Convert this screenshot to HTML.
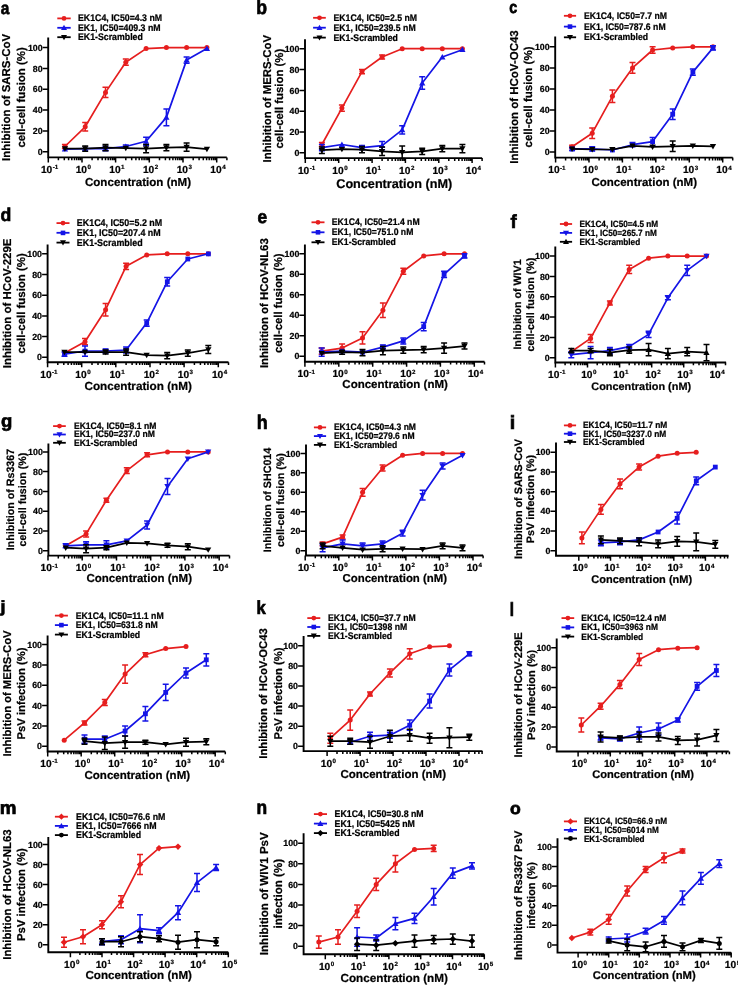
<!DOCTYPE html>
<html><head><meta charset="utf-8"><style>
html,body{margin:0;padding:0;background:#fff;width:738px;height:987px;overflow:hidden}
svg{display:block;text-rendering:geometricPrecision;filter:blur(0.35px)}
text{font-family:"Liberation Sans", sans-serif;font-weight:bold;fill:#000;stroke:#000;stroke-width:0.22px}
.lab{stroke-width:0.7px}
</style></head><body>
<svg width="738" height="987" viewBox="0 0 738 987">
<rect width="738" height="987" fill="#fff"/>
<text class="lab" transform="translate(0.85,13.52) scale(0.868,1)" font-size="17.70">a</text>
<path d="M48.2,37.4V157.4H226.8" fill="none" stroke="#000" stroke-width="1.9"/>
<text x="42.6" y="154.8" font-size="8.8" text-anchor="end">0</text>
<text x="42.6" y="134.0" font-size="8.8" text-anchor="end">20</text>
<text x="42.6" y="113.2" font-size="8.8" text-anchor="end">40</text>
<text x="42.6" y="92.4" font-size="8.8" text-anchor="end">60</text>
<text x="42.6" y="71.5" font-size="8.8" text-anchor="end">80</text>
<text x="42.6" y="50.7" font-size="8.8" text-anchor="end">100</text>
<path d="M42.7,151.8H48.2M42.7,130.9H48.2M42.7,110.1H48.2M42.7,89.3H48.2M42.7,68.4H48.2M42.7,47.6H48.2M48.3,157.4V162.4M58.4,157.4V160.2M64.3,157.4V160.2M68.6,157.4V160.2M71.8,157.4V160.2M74.5,157.4V160.2M76.7,157.4V160.2M78.7,157.4V160.2M80.4,157.4V160.2M82.0,157.4V162.4M92.1,157.4V160.2M98.0,157.4V160.2M102.2,157.4V160.2M105.5,157.4V160.2M108.2,157.4V160.2M110.4,157.4V160.2M112.4,157.4V160.2M114.1,157.4V160.2M115.6,157.4V162.4M125.8,157.4V160.2M131.7,157.4V160.2M135.9,157.4V160.2M139.2,157.4V160.2M141.9,157.4V160.2M144.1,157.4V160.2M146.1,157.4V160.2M147.8,157.4V160.2M149.3,157.4V162.4M159.5,157.4V160.2M165.4,157.4V160.2M169.6,157.4V160.2M172.9,157.4V160.2M175.6,157.4V160.2M177.8,157.4V160.2M179.8,157.4V160.2M181.5,157.4V160.2M183.0,157.4V162.4M193.2,157.4V160.2M199.1,157.4V160.2M203.3,157.4V160.2M206.6,157.4V160.2M209.2,157.4V160.2M211.5,157.4V160.2M213.5,157.4V160.2M215.2,157.4V160.2M216.7,157.4V162.4M226.9,157.4V160.2" fill="none" stroke="#000" stroke-width="1.5"/>
<text x="49.6" y="172.9" font-size="10.2" text-anchor="middle">10<tspan font-size="6.2" dy="-3.6" dx="0.5">-1</tspan></text>
<text x="83.3" y="172.9" font-size="10.2" text-anchor="middle">10<tspan font-size="6.2" dy="-3.6" dx="0.5">0</tspan></text>
<text x="116.9" y="172.9" font-size="10.2" text-anchor="middle">10<tspan font-size="6.2" dy="-3.6" dx="0.5">1</tspan></text>
<text x="150.6" y="172.9" font-size="10.2" text-anchor="middle">10<tspan font-size="6.2" dy="-3.6" dx="0.5">2</tspan></text>
<text x="184.3" y="172.9" font-size="10.2" text-anchor="middle">10<tspan font-size="6.2" dy="-3.6" dx="0.5">3</tspan></text>
<text x="218.0" y="172.9" font-size="10.2" text-anchor="middle">10<tspan font-size="6.2" dy="-3.6" dx="0.5">4</tspan></text>
<text x="138.0" y="185.9" font-size="11.59" text-anchor="middle">Concentration (nM)</text>
<text transform="translate(10.4,97.4) rotate(-90)" x="0" y="0" font-size="11.45" text-anchor="middle">Inhibition of SARS-CoV</text>
<text transform="translate(24.7,97.4) rotate(-90)" x="0" y="0" font-size="11.45" text-anchor="middle">cell-cell fusion (%)</text>
<path d="M57.3,18.4H70.7" stroke="#e61e1e" stroke-width="1.8"/>
<circle cx="64.0" cy="18.4" r="2.4" fill="#e61e1e"/>
<text transform="translate(78.0,21.40) scale(1,1.1)" font-size="8.78">EK1C4, IC50=4.3 nM</text>
<path d="M57.3,27.8H70.7" stroke="#1414e6" stroke-width="1.8"/>
<polygon points="64.0,24.8 67.0,30.0 61.0,30.0" fill="#1414e6"/>
<text transform="translate(78.0,30.80) scale(1,1.1)" font-size="8.78">EK1, IC50=409.3 nM</text>
<path d="M57.3,37.2H70.7" stroke="#000000" stroke-width="1.8"/>
<polygon points="64.0,40.2 67.0,35.0 61.0,35.0" fill="#000000"/>
<text transform="translate(78.0,40.20) scale(1,1.1)" font-size="8.78">EK1-Scrambled</text>
<polyline points="64.9,146.5 85.2,126.8 105.5,92.4 125.8,62.2 146.1,48.6 166.4,47.6 186.6,47.6 206.9,47.6" fill="none" stroke="#e61e1e" stroke-width="1.7" stroke-linejoin="round"/>
<path d="M64.9,144.5V148.6M61.9,144.5H67.9M61.9,148.6H67.9M85.2,122.6V130.9M82.2,122.6H88.2M82.2,130.9H88.2M105.5,87.2V97.6M102.5,87.2H108.5M102.5,97.6H108.5M125.8,59.1V65.3M122.8,59.1H128.8M122.8,65.3H128.8" fill="none" stroke="#e61e1e" stroke-width="1.5"/>
<circle cx="64.9" cy="146.5" r="2.5" fill="#e61e1e"/>
<circle cx="85.2" cy="126.8" r="2.5" fill="#e61e1e"/>
<circle cx="105.5" cy="92.4" r="2.5" fill="#e61e1e"/>
<circle cx="125.8" cy="62.2" r="2.5" fill="#e61e1e"/>
<circle cx="146.1" cy="48.6" r="2.5" fill="#e61e1e"/>
<circle cx="166.4" cy="47.6" r="2.5" fill="#e61e1e"/>
<circle cx="186.6" cy="47.6" r="2.5" fill="#e61e1e"/>
<circle cx="206.9" cy="47.6" r="2.5" fill="#e61e1e"/>
<polyline points="64.9,149.1 85.2,148.6 105.5,148.6 125.8,146.5 146.1,141.3 166.4,117.4 186.6,60.1 206.9,48.6" fill="none" stroke="#1414e6" stroke-width="1.7" stroke-linejoin="round"/>
<path d="M105.5,146.5V150.7M102.5,146.5H108.5M102.5,150.7H108.5M125.8,145.0V148.1M122.8,145.0H128.8M122.8,148.1H128.8M146.1,137.2V145.5M143.1,137.2H149.1M143.1,145.5H149.1M166.4,109.0V125.7M163.4,109.0H169.4M163.4,125.7H169.4M186.6,57.0V63.2M183.6,57.0H189.6M183.6,63.2H189.6" fill="none" stroke="#1414e6" stroke-width="1.5"/>
<polygon points="64.9,146.0 68.1,151.5 61.8,151.5" fill="#1414e6"/>
<polygon points="85.2,145.5 88.3,151.0 82.1,151.0" fill="#1414e6"/>
<polygon points="105.5,145.5 108.6,151.0 102.4,151.0" fill="#1414e6"/>
<polygon points="125.8,143.4 128.9,148.9 122.7,148.9" fill="#1414e6"/>
<polygon points="146.1,138.2 149.2,143.7 143.0,143.7" fill="#1414e6"/>
<polygon points="166.4,114.3 169.5,119.7 163.2,119.7" fill="#1414e6"/>
<polygon points="186.6,57.0 189.8,62.4 183.5,62.4" fill="#1414e6"/>
<polygon points="206.9,45.5 210.1,51.0 203.8,51.0" fill="#1414e6"/>
<polyline points="64.9,148.6 85.2,148.6 105.5,147.6 125.8,148.1 146.1,148.6 166.4,147.6 186.6,147.1 206.9,149.1" fill="none" stroke="#000000" stroke-width="1.7" stroke-linejoin="round"/>
<path d="M85.2,146.0V151.2M82.2,146.0H88.2M82.2,151.2H88.2M105.5,144.5V150.7M102.5,144.5H108.5M102.5,150.7H108.5M146.1,144.5V152.8M143.1,144.5H149.1M143.1,152.8H149.1M166.4,144.5V150.7M163.4,144.5H169.4M163.4,150.7H169.4M186.6,142.9V151.2M183.6,142.9H189.6M183.6,151.2H189.6" fill="none" stroke="#000000" stroke-width="1.5"/>
<polygon points="64.9,151.8 68.1,146.3 61.8,146.3" fill="#000000"/>
<polygon points="85.2,151.8 88.3,146.3 82.1,146.3" fill="#000000"/>
<polygon points="105.5,150.7 108.6,145.2 102.4,145.2" fill="#000000"/>
<polygon points="125.8,151.2 128.9,145.8 122.7,145.8" fill="#000000"/>
<polygon points="146.1,151.8 149.2,146.3 143.0,146.3" fill="#000000"/>
<polygon points="166.4,150.7 169.5,145.2 163.2,145.2" fill="#000000"/>
<polygon points="186.6,150.2 189.8,144.7 183.5,144.7" fill="#000000"/>
<polygon points="206.9,152.3 210.1,146.8 203.8,146.8" fill="#000000"/>
<text class="lab" transform="translate(256.13,14.10) scale(0.895,1)" font-size="19.73">b</text>
<path d="M305.0,39.2V158.1H482.1" fill="none" stroke="#000" stroke-width="1.9"/>
<text x="299.4" y="155.9" font-size="8.8" text-anchor="end">0</text>
<text x="299.4" y="135.1" font-size="8.8" text-anchor="end">20</text>
<text x="299.4" y="114.3" font-size="8.8" text-anchor="end">40</text>
<text x="299.4" y="93.5" font-size="8.8" text-anchor="end">60</text>
<text x="299.4" y="72.6" font-size="8.8" text-anchor="end">80</text>
<text x="299.4" y="51.8" font-size="8.8" text-anchor="end">100</text>
<path d="M299.5,152.8H305.0M299.5,132.0H305.0M299.5,111.2H305.0M299.5,90.4H305.0M299.5,69.5H305.0M299.5,48.7H305.0M305.3,158.1V163.1M315.4,158.1V160.9M321.3,158.1V160.9M325.4,158.1V160.9M328.7,158.1V160.9M331.3,158.1V160.9M333.5,158.1V160.9M335.5,158.1V160.9M337.2,158.1V160.9M338.7,158.1V163.1M348.7,158.1V160.9M354.6,158.1V160.9M358.8,158.1V160.9M362.0,158.1V160.9M364.7,158.1V160.9M366.9,158.1V160.9M368.8,158.1V160.9M370.5,158.1V160.9M372.1,158.1V163.1M382.1,158.1V160.9M388.0,158.1V160.9M392.1,158.1V160.9M395.4,158.1V160.9M398.0,158.1V160.9M400.2,158.1V160.9M402.2,158.1V160.9M403.9,158.1V160.9M405.4,158.1V163.1M415.4,158.1V160.9M421.3,158.1V160.9M425.5,158.1V160.9M428.7,158.1V160.9M431.4,158.1V160.9M433.6,158.1V160.9M435.5,158.1V160.9M437.2,158.1V160.9M438.8,158.1V163.1M448.8,158.1V160.9M454.7,158.1V160.9M458.8,158.1V160.9M462.1,158.1V160.9M464.7,158.1V160.9M466.9,158.1V160.9M468.9,158.1V160.9M470.6,158.1V160.9M472.1,158.1V163.1M482.1,158.1V160.9" fill="none" stroke="#000" stroke-width="1.5"/>
<text x="306.6" y="173.6" font-size="10.2" text-anchor="middle">10<tspan font-size="6.2" dy="-3.6" dx="0.5">-1</tspan></text>
<text x="340.0" y="173.6" font-size="10.2" text-anchor="middle">10<tspan font-size="6.2" dy="-3.6" dx="0.5">0</tspan></text>
<text x="373.4" y="173.6" font-size="10.2" text-anchor="middle">10<tspan font-size="6.2" dy="-3.6" dx="0.5">1</tspan></text>
<text x="406.7" y="173.6" font-size="10.2" text-anchor="middle">10<tspan font-size="6.2" dy="-3.6" dx="0.5">2</tspan></text>
<text x="440.1" y="173.6" font-size="10.2" text-anchor="middle">10<tspan font-size="6.2" dy="-3.6" dx="0.5">3</tspan></text>
<text x="473.4" y="173.6" font-size="10.2" text-anchor="middle">10<tspan font-size="6.2" dy="-3.6" dx="0.5">4</tspan></text>
<text x="394.2" y="187.5" font-size="12.65" text-anchor="middle">Concentration (nM)</text>
<text transform="translate(270.9,98.7) rotate(-90)" x="0" y="0" font-size="11.37" text-anchor="middle">Inhibition of MERS-CoV</text>
<text transform="translate(282.9,98.7) rotate(-90)" x="0" y="0" font-size="11.37" text-anchor="middle">cell-cell fusion (%)</text>
<path d="M313.1,17.8H325.8" stroke="#e61e1e" stroke-width="1.8"/>
<circle cx="319.5" cy="17.8" r="2.4" fill="#e61e1e"/>
<text transform="translate(333.5,20.80) scale(1,1.1)" font-size="8.73">EK1C4, IC50=2.5 nM</text>
<path d="M313.1,27.7H325.8" stroke="#1414e6" stroke-width="1.8"/>
<polygon points="319.5,24.7 322.5,30.0 316.5,30.0" fill="#1414e6"/>
<text transform="translate(333.5,30.70) scale(1,1.1)" font-size="8.73">EK1, IC50=239.5 nM</text>
<path d="M313.1,37.6H325.8" stroke="#000000" stroke-width="1.8"/>
<polygon points="319.5,40.6 322.5,35.4 316.5,35.4" fill="#000000"/>
<text transform="translate(333.5,40.60) scale(1,1.1)" font-size="8.73">EK1-Scrambled</text>
<polyline points="321.9,144.5 341.9,108.1 362.0,71.6 382.1,57.0 402.2,48.7 422.2,48.7 442.3,48.7 462.4,48.7" fill="none" stroke="#e61e1e" stroke-width="1.7" stroke-linejoin="round"/>
<path d="M321.9,142.4V146.6M318.9,142.4H324.9M318.9,146.6H324.9M341.9,104.9V111.2M338.9,104.9H344.9M338.9,111.2H344.9M362.0,69.5V73.7M359.0,69.5H365.0M359.0,73.7H365.0M382.1,54.9V59.1M379.1,54.9H385.1M379.1,59.1H385.1" fill="none" stroke="#e61e1e" stroke-width="1.5"/>
<circle cx="321.9" cy="144.5" r="2.5" fill="#e61e1e"/>
<circle cx="341.9" cy="108.1" r="2.5" fill="#e61e1e"/>
<circle cx="362.0" cy="71.6" r="2.5" fill="#e61e1e"/>
<circle cx="382.1" cy="57.0" r="2.5" fill="#e61e1e"/>
<circle cx="402.2" cy="48.7" r="2.5" fill="#e61e1e"/>
<circle cx="422.2" cy="48.7" r="2.5" fill="#e61e1e"/>
<circle cx="442.3" cy="48.7" r="2.5" fill="#e61e1e"/>
<circle cx="462.4" cy="48.7" r="2.5" fill="#e61e1e"/>
<polyline points="321.9,147.6 341.9,144.5 362.0,147.6 382.1,145.6 402.2,129.9 422.2,83.1 442.3,57.0 462.4,49.7" fill="none" stroke="#1414e6" stroke-width="1.7" stroke-linejoin="round"/>
<path d="M321.9,144.5V150.8M318.9,144.5H324.9M318.9,150.8H324.9M362.0,145.6V149.7M359.0,145.6H365.0M359.0,149.7H365.0M382.1,141.4V149.7M379.1,141.4H385.1M379.1,149.7H385.1M402.2,125.8V134.1M399.2,125.8H405.2M399.2,134.1H405.2M422.2,76.8V89.3M419.2,76.8H425.2M419.2,89.3H425.2" fill="none" stroke="#1414e6" stroke-width="1.5"/>
<polygon points="321.9,144.5 325.0,150.0 318.7,150.0" fill="#1414e6"/>
<polygon points="341.9,141.4 345.1,146.9 338.8,146.9" fill="#1414e6"/>
<polygon points="362.0,144.5 365.1,150.0 358.9,150.0" fill="#1414e6"/>
<polygon points="382.1,142.4 385.2,147.9 379.0,147.9" fill="#1414e6"/>
<polygon points="402.2,126.8 405.3,132.3 399.0,132.3" fill="#1414e6"/>
<polygon points="422.2,79.9 425.4,85.4 419.1,85.4" fill="#1414e6"/>
<polygon points="442.3,53.9 445.5,59.4 439.2,59.4" fill="#1414e6"/>
<polygon points="462.4,46.6 465.5,52.1 459.3,52.1" fill="#1414e6"/>
<polyline points="321.9,150.2 341.9,149.2 362.0,149.7 382.1,151.3 402.2,152.3 422.2,151.3 442.3,148.7 462.4,148.7" fill="none" stroke="#000000" stroke-width="1.7" stroke-linejoin="round"/>
<path d="M321.9,147.1V153.4M318.9,147.1H324.9M318.9,153.4H324.9M362.0,146.6V152.8M359.0,146.6H365.0M359.0,152.8H365.0M382.1,147.1V155.5M379.1,147.1H385.1M379.1,155.5H385.1M402.2,146.1V158.6M399.2,146.1H405.2M399.2,158.6H405.2M422.2,148.2V154.4M419.2,148.2H425.2M419.2,154.4H425.2M442.3,145.6V151.8M439.3,145.6H445.3M439.3,151.8H445.3M462.4,144.5V152.8M459.4,144.5H465.4M459.4,152.8H465.4" fill="none" stroke="#000000" stroke-width="1.5"/>
<polygon points="321.9,153.4 325.0,147.9 318.7,147.9" fill="#000000"/>
<polygon points="341.9,152.3 345.1,146.9 338.8,146.9" fill="#000000"/>
<polygon points="362.0,152.9 365.1,147.4 358.9,147.4" fill="#000000"/>
<polygon points="382.1,154.4 385.2,148.9 379.0,148.9" fill="#000000"/>
<polygon points="402.2,155.5 405.3,150.0 399.0,150.0" fill="#000000"/>
<polygon points="422.2,154.4 425.4,148.9 419.1,148.9" fill="#000000"/>
<polygon points="442.3,151.8 445.5,146.3 439.2,146.3" fill="#000000"/>
<polygon points="462.4,151.8 465.5,146.3 459.3,146.3" fill="#000000"/>
<text class="lab" transform="translate(509.24,13.33) scale(0.836,1)" font-size="17.15">c</text>
<path d="M555.2,36.4V157.6H732.7" fill="none" stroke="#000" stroke-width="1.9"/>
<text x="549.6" y="155.2" font-size="8.8" text-anchor="end">0</text>
<text x="549.6" y="134.1" font-size="8.8" text-anchor="end">20</text>
<text x="549.6" y="113.1" font-size="8.8" text-anchor="end">40</text>
<text x="549.6" y="92.0" font-size="8.8" text-anchor="end">60</text>
<text x="549.6" y="71.0" font-size="8.8" text-anchor="end">80</text>
<text x="549.6" y="49.9" font-size="8.8" text-anchor="end">100</text>
<path d="M549.7,152.1H555.2M549.7,131.0H555.2M549.7,110.0H555.2M549.7,88.9H555.2M549.7,67.9H555.2M549.7,46.8H555.2M555.6,157.6V162.6M565.6,157.6V160.4M571.5,157.6V160.4M575.7,157.6V160.4M578.9,157.6V160.4M581.6,157.6V160.4M583.8,157.6V160.4M585.8,157.6V160.4M587.5,157.6V160.4M589.0,157.6V162.6M599.1,157.6V160.4M604.9,157.6V160.4M609.1,157.6V160.4M612.4,157.6V160.4M615.0,157.6V160.4M617.2,157.6V160.4M619.2,157.6V160.4M620.9,157.6V160.4M622.4,157.6V162.6M632.5,157.6V160.4M638.4,157.6V160.4M642.5,157.6V160.4M645.8,157.6V160.4M648.4,157.6V160.4M650.7,157.6V160.4M652.6,157.6V160.4M654.3,157.6V160.4M655.8,157.6V162.6M665.9,157.6V160.4M671.8,157.6V160.4M676.0,157.6V160.4M679.2,157.6V160.4M681.8,157.6V160.4M684.1,157.6V160.4M686.0,157.6V160.4M687.7,157.6V160.4M689.3,157.6V162.6M699.3,157.6V160.4M705.2,157.6V160.4M709.4,157.6V160.4M712.6,157.6V160.4M715.3,157.6V160.4M717.5,157.6V160.4M719.4,157.6V160.4M721.2,157.6V160.4M722.7,157.6V162.6M732.7,157.6V160.4" fill="none" stroke="#000" stroke-width="1.5"/>
<text x="556.9" y="173.1" font-size="10.2" text-anchor="middle">10<tspan font-size="6.2" dy="-3.6" dx="0.5">-1</tspan></text>
<text x="590.3" y="173.1" font-size="10.2" text-anchor="middle">10<tspan font-size="6.2" dy="-3.6" dx="0.5">0</tspan></text>
<text x="623.7" y="173.1" font-size="10.2" text-anchor="middle">10<tspan font-size="6.2" dy="-3.6" dx="0.5">1</tspan></text>
<text x="657.1" y="173.1" font-size="10.2" text-anchor="middle">10<tspan font-size="6.2" dy="-3.6" dx="0.5">2</tspan></text>
<text x="690.6" y="173.1" font-size="10.2" text-anchor="middle">10<tspan font-size="6.2" dy="-3.6" dx="0.5">3</tspan></text>
<text x="724.0" y="173.1" font-size="10.2" text-anchor="middle">10<tspan font-size="6.2" dy="-3.6" dx="0.5">4</tspan></text>
<text x="644.2" y="185.7" font-size="11.53" text-anchor="middle">Concentration (nM)</text>
<text transform="translate(518.0,97.0) rotate(-90)" x="0" y="0" font-size="11.5" text-anchor="middle">Inhibition of HCoV-OC43</text>
<text transform="translate(532.2,97.0) rotate(-90)" x="0" y="0" font-size="11.5" text-anchor="middle">cell-cell fusion (%)</text>
<path d="M563.9,15.8H576.1" stroke="#e61e1e" stroke-width="1.8"/>
<circle cx="570.0" cy="15.8" r="2.4" fill="#e61e1e"/>
<text transform="translate(583.9,18.80) scale(1,1.1)" font-size="8.69">EK1C4, IC50=7.7 nM</text>
<path d="M563.9,26.6H576.1" stroke="#1414e6" stroke-width="1.8"/>
<rect x="567.7" y="24.3" width="4.6" height="4.6" fill="#1414e6"/>
<text transform="translate(583.9,29.55) scale(1,1.1)" font-size="8.69">EK1, IC50=787.6 nM</text>
<path d="M563.9,37.3H576.1" stroke="#000000" stroke-width="1.8"/>
<polygon points="570.0,40.3 573.0,35.0 567.0,35.0" fill="#000000"/>
<text transform="translate(583.9,40.30) scale(1,1.1)" font-size="8.69">EK1-Scrambled</text>
<polyline points="572.1,146.8 592.2,133.2 612.4,96.3 632.5,67.9 652.6,50.0 672.7,47.9 692.8,46.8 713.0,46.8" fill="none" stroke="#e61e1e" stroke-width="1.7" stroke-linejoin="round"/>
<path d="M572.1,145.3V148.4M569.1,145.3H575.1M569.1,148.4H575.1M592.2,127.9V138.4M589.2,127.9H595.2M589.2,138.4H595.2M612.4,90.0V102.6M609.4,90.0H615.4M609.4,102.6H615.4M632.5,62.6V73.2M629.5,62.6H635.5M629.5,73.2H635.5M652.6,46.8V53.2M649.6,46.8H655.6M649.6,53.2H655.6" fill="none" stroke="#e61e1e" stroke-width="1.5"/>
<circle cx="572.1" cy="146.8" r="2.5" fill="#e61e1e"/>
<circle cx="592.2" cy="133.2" r="2.5" fill="#e61e1e"/>
<circle cx="612.4" cy="96.3" r="2.5" fill="#e61e1e"/>
<circle cx="632.5" cy="67.9" r="2.5" fill="#e61e1e"/>
<circle cx="652.6" cy="50.0" r="2.5" fill="#e61e1e"/>
<circle cx="672.7" cy="47.9" r="2.5" fill="#e61e1e"/>
<circle cx="692.8" cy="46.8" r="2.5" fill="#e61e1e"/>
<circle cx="713.0" cy="46.8" r="2.5" fill="#e61e1e"/>
<polyline points="572.1,148.9 592.2,148.9 612.4,150.0 632.5,144.7 652.6,141.6 672.7,114.2 692.8,72.1 713.0,47.9" fill="none" stroke="#1414e6" stroke-width="1.7" stroke-linejoin="round"/>
<path d="M572.1,147.4V150.5M569.1,147.4H575.1M569.1,150.5H575.1M592.2,146.8V151.0M589.2,146.8H595.2M589.2,151.0H595.2M632.5,142.6V146.8M629.5,142.6H635.5M629.5,146.8H635.5M652.6,137.4V145.8M649.6,137.4H655.6M649.6,145.8H655.6M672.7,108.9V119.5M669.7,108.9H675.7M669.7,119.5H675.7M692.8,69.0V75.3M689.8,69.0H695.8M689.8,75.3H695.8M713.0,45.8V50.0M710.0,45.8H716.0M710.0,50.0H716.0" fill="none" stroke="#1414e6" stroke-width="1.5"/>
<rect x="569.7" y="146.6" width="4.8" height="4.8" fill="#1414e6"/>
<rect x="589.9" y="146.6" width="4.8" height="4.8" fill="#1414e6"/>
<rect x="610.0" y="147.6" width="4.8" height="4.8" fill="#1414e6"/>
<rect x="630.1" y="142.4" width="4.8" height="4.8" fill="#1414e6"/>
<rect x="650.2" y="139.2" width="4.8" height="4.8" fill="#1414e6"/>
<rect x="670.3" y="111.8" width="4.8" height="4.8" fill="#1414e6"/>
<rect x="690.5" y="69.7" width="4.8" height="4.8" fill="#1414e6"/>
<rect x="710.6" y="45.5" width="4.8" height="4.8" fill="#1414e6"/>
<polyline points="572.1,148.9 592.2,149.5 612.4,149.5 632.5,145.8 652.6,146.8 672.7,146.3 692.8,145.8 713.0,146.3" fill="none" stroke="#000000" stroke-width="1.7" stroke-linejoin="round"/>
<path d="M672.7,141.0V151.6M669.7,141.0H675.7M669.7,151.6H675.7" fill="none" stroke="#000000" stroke-width="1.5"/>
<polygon points="572.1,152.1 575.2,146.6 569.0,146.6" fill="#000000"/>
<polygon points="592.2,152.6 595.4,147.1 589.1,147.1" fill="#000000"/>
<polygon points="612.4,152.6 615.5,147.1 609.2,147.1" fill="#000000"/>
<polygon points="632.5,148.9 635.6,143.4 629.4,143.4" fill="#000000"/>
<polygon points="652.6,150.0 655.7,144.5 649.5,144.5" fill="#000000"/>
<polygon points="672.7,149.4 675.8,144.0 669.6,144.0" fill="#000000"/>
<polygon points="692.8,148.9 696.0,143.4 689.7,143.4" fill="#000000"/>
<polygon points="713.0,149.4 716.1,144.0 709.8,144.0" fill="#000000"/>
<text class="lab" transform="translate(0.38,221.32) scale(0.961,1)" font-size="18.37">d</text>
<path d="M47.6,244.6V362.2H228.5" fill="none" stroke="#000" stroke-width="1.9"/>
<text x="42.0" y="360.4" font-size="8.8" text-anchor="end">0</text>
<text x="42.0" y="339.7" font-size="8.8" text-anchor="end">20</text>
<text x="42.0" y="319.0" font-size="8.8" text-anchor="end">40</text>
<text x="42.0" y="298.3" font-size="8.8" text-anchor="end">60</text>
<text x="42.0" y="277.6" font-size="8.8" text-anchor="end">80</text>
<text x="42.0" y="256.9" font-size="8.8" text-anchor="end">100</text>
<path d="M42.1,357.2H47.6M42.1,336.6H47.6M42.1,315.9H47.6M42.1,295.2H47.6M42.1,274.5H47.6M42.1,253.8H47.6M47.6,362.2V367.2M57.8,362.2V365.0M63.8,362.2V365.0M68.1,362.2V365.0M71.4,362.2V365.0M74.1,362.2V365.0M76.4,362.2V365.0M78.4,362.2V365.0M80.1,362.2V365.0M81.7,362.2V367.2M92.0,362.2V365.0M98.0,362.2V365.0M102.3,362.2V365.0M105.6,362.2V365.0M108.3,362.2V365.0M110.6,362.2V365.0M112.5,362.2V365.0M114.3,362.2V365.0M115.8,362.2V367.2M126.1,362.2V365.0M132.1,362.2V365.0M136.4,362.2V365.0M139.7,362.2V365.0M142.4,362.2V365.0M144.7,362.2V365.0M146.7,362.2V365.0M148.4,362.2V365.0M150.0,362.2V367.2M160.3,362.2V365.0M166.3,362.2V365.0M170.5,362.2V365.0M173.8,362.2V365.0M176.5,362.2V365.0M178.8,362.2V365.0M180.8,362.2V365.0M182.6,362.2V365.0M184.1,362.2V367.2M194.4,362.2V365.0M200.4,362.2V365.0M204.7,362.2V365.0M208.0,362.2V365.0M210.7,362.2V365.0M213.0,362.2V365.0M215.0,362.2V365.0M216.7,362.2V365.0M218.3,362.2V367.2M228.5,362.2V365.0" fill="none" stroke="#000" stroke-width="1.5"/>
<text x="48.9" y="377.7" font-size="10.2" text-anchor="middle">10<tspan font-size="6.2" dy="-3.6" dx="0.5">-1</tspan></text>
<text x="83.0" y="377.7" font-size="10.2" text-anchor="middle">10<tspan font-size="6.2" dy="-3.6" dx="0.5">0</tspan></text>
<text x="117.1" y="377.7" font-size="10.2" text-anchor="middle">10<tspan font-size="6.2" dy="-3.6" dx="0.5">1</tspan></text>
<text x="151.3" y="377.7" font-size="10.2" text-anchor="middle">10<tspan font-size="6.2" dy="-3.6" dx="0.5">2</tspan></text>
<text x="185.4" y="377.7" font-size="10.2" text-anchor="middle">10<tspan font-size="6.2" dy="-3.6" dx="0.5">3</tspan></text>
<text x="219.6" y="377.7" font-size="10.2" text-anchor="middle">10<tspan font-size="6.2" dy="-3.6" dx="0.5">4</tspan></text>
<text x="138.2" y="389.8" font-size="11.74" text-anchor="middle">Concentration (nM)</text>
<text transform="translate(10.9,303.4) rotate(-90)" x="0" y="0" font-size="11.45" text-anchor="middle">Inhibition of HCoV-229E</text>
<text transform="translate(25.1,303.4) rotate(-90)" x="0" y="0" font-size="11.45" text-anchor="middle">cell-cell fusion (%)</text>
<path d="M56.5,223.1H69.5" stroke="#e61e1e" stroke-width="1.8"/>
<circle cx="63.0" cy="223.1" r="2.4" fill="#e61e1e"/>
<text transform="translate(76.8,226.10) scale(1,1.1)" font-size="8.91">EK1C4, IC50=5.2 nM</text>
<path d="M56.5,232.8H69.5" stroke="#1414e6" stroke-width="1.8"/>
<rect x="60.7" y="230.6" width="4.6" height="4.6" fill="#1414e6"/>
<text transform="translate(76.8,235.85) scale(1,1.1)" font-size="8.91">EK1, IC50=207.4 nM</text>
<path d="M56.5,242.6H69.5" stroke="#000000" stroke-width="1.8"/>
<polygon points="63.0,245.6 66.0,240.3 60.0,240.3" fill="#000000"/>
<text transform="translate(76.8,245.60) scale(1,1.1)" font-size="8.91">EK1-Scrambled</text>
<polyline points="64.5,353.1 85.0,341.7 105.6,309.7 126.1,266.3 146.7,254.9 167.2,253.8 187.8,253.8 208.3,253.8" fill="none" stroke="#e61e1e" stroke-width="1.7" stroke-linejoin="round"/>
<path d="M85.0,338.6V344.8M82.0,338.6H88.0M82.0,344.8H88.0M105.6,303.5V315.9M102.6,303.5H108.6M102.6,315.9H108.6M126.1,263.2V269.4M123.1,263.2H129.1M123.1,269.4H129.1" fill="none" stroke="#e61e1e" stroke-width="1.5"/>
<circle cx="64.5" cy="353.1" r="2.5" fill="#e61e1e"/>
<circle cx="85.0" cy="341.7" r="2.5" fill="#e61e1e"/>
<circle cx="105.6" cy="309.7" r="2.5" fill="#e61e1e"/>
<circle cx="126.1" cy="266.3" r="2.5" fill="#e61e1e"/>
<circle cx="146.7" cy="254.9" r="2.5" fill="#e61e1e"/>
<circle cx="167.2" cy="253.8" r="2.5" fill="#e61e1e"/>
<circle cx="187.8" cy="253.8" r="2.5" fill="#e61e1e"/>
<circle cx="208.3" cy="253.8" r="2.5" fill="#e61e1e"/>
<polyline points="64.5,354.1 85.0,351.0 105.6,351.0 126.1,350.0 146.7,323.1 167.2,281.8 187.8,259.0 208.3,253.8" fill="none" stroke="#1414e6" stroke-width="1.7" stroke-linejoin="round"/>
<path d="M64.5,352.1V356.2M61.5,352.1H67.5M61.5,356.2H67.5M85.0,345.9V356.2M82.0,345.9H88.0M82.0,356.2H88.0M105.6,349.0V353.1M102.6,349.0H108.6M102.6,353.1H108.6M126.1,346.9V353.1M123.1,346.9H129.1M123.1,353.1H129.1M146.7,320.0V326.2M143.7,320.0H149.7M143.7,326.2H149.7M167.2,277.6V285.9M164.2,277.6H170.2M164.2,285.9H170.2" fill="none" stroke="#1414e6" stroke-width="1.5"/>
<rect x="62.1" y="351.8" width="4.8" height="4.8" fill="#1414e6"/>
<rect x="82.6" y="348.7" width="4.8" height="4.8" fill="#1414e6"/>
<rect x="103.2" y="348.7" width="4.8" height="4.8" fill="#1414e6"/>
<rect x="123.7" y="347.6" width="4.8" height="4.8" fill="#1414e6"/>
<rect x="144.3" y="320.8" width="4.8" height="4.8" fill="#1414e6"/>
<rect x="164.9" y="279.4" width="4.8" height="4.8" fill="#1414e6"/>
<rect x="185.4" y="256.6" width="4.8" height="4.8" fill="#1414e6"/>
<rect x="206.0" y="251.5" width="4.8" height="4.8" fill="#1414e6"/>
<polyline points="64.5,352.1 85.0,352.1 105.6,352.1 126.1,352.1 146.7,355.2 167.2,355.7 187.8,353.1 208.3,349.5" fill="none" stroke="#000000" stroke-width="1.7" stroke-linejoin="round"/>
<path d="M105.6,350.0V354.1M102.6,350.0H108.6M102.6,354.1H108.6M126.1,349.0V355.2M123.1,349.0H129.1M123.1,355.2H129.1M167.2,352.6V358.8M164.2,352.6H170.2M164.2,358.8H170.2M187.8,350.0V356.2M184.8,350.0H190.8M184.8,356.2H190.8M208.3,345.4V353.6M205.3,345.4H211.3M205.3,353.6H211.3" fill="none" stroke="#000000" stroke-width="1.5"/>
<polygon points="64.5,355.2 67.6,349.7 61.3,349.7" fill="#000000"/>
<polygon points="85.0,355.2 88.1,349.7 81.9,349.7" fill="#000000"/>
<polygon points="105.6,355.2 108.7,349.7 102.4,349.7" fill="#000000"/>
<polygon points="126.1,355.2 129.2,349.7 123.0,349.7" fill="#000000"/>
<polygon points="146.7,358.3 149.8,352.8 143.5,352.8" fill="#000000"/>
<polygon points="167.2,358.8 170.4,353.4 164.1,353.4" fill="#000000"/>
<polygon points="187.8,356.2 190.9,350.8 184.7,350.8" fill="#000000"/>
<polygon points="208.3,352.6 211.5,347.2 205.2,347.2" fill="#000000"/>
<text class="lab" transform="translate(257.53,223.22) scale(0.942,1)" font-size="18.25">e</text>
<path d="M304.9,244.6V361.8H484.5" fill="none" stroke="#000" stroke-width="1.9"/>
<text x="299.3" y="359.4" font-size="8.8" text-anchor="end">0</text>
<text x="299.3" y="338.9" font-size="8.8" text-anchor="end">20</text>
<text x="299.3" y="318.4" font-size="8.8" text-anchor="end">40</text>
<text x="299.3" y="297.9" font-size="8.8" text-anchor="end">60</text>
<text x="299.3" y="277.4" font-size="8.8" text-anchor="end">80</text>
<text x="299.3" y="256.9" font-size="8.8" text-anchor="end">100</text>
<path d="M299.4,356.3H304.9M299.4,335.8H304.9M299.4,315.3H304.9M299.4,294.8H304.9M299.4,274.3H304.9M299.4,253.8H304.9M304.9,361.8V366.8M315.1,361.8V364.6M321.1,361.8V364.6M325.3,361.8V364.6M328.6,361.8V364.6M331.3,361.8V364.6M333.6,361.8V364.6M335.5,361.8V364.6M337.2,361.8V364.6M338.8,361.8V366.8M349.0,361.8V364.6M355.0,361.8V364.6M359.2,361.8V364.6M362.5,361.8V364.6M365.2,361.8V364.6M367.4,361.8V364.6M369.4,361.8V364.6M371.1,361.8V364.6M372.7,361.8V366.8M382.9,361.8V364.6M388.8,361.8V364.6M393.1,361.8V364.6M396.4,361.8V364.6M399.0,361.8V364.6M401.3,361.8V364.6M403.3,361.8V364.6M405.0,361.8V364.6M406.6,361.8V366.8M416.8,361.8V364.6M422.7,361.8V364.6M427.0,361.8V364.6M430.2,361.8V364.6M432.9,361.8V364.6M435.2,361.8V364.6M437.2,361.8V364.6M438.9,361.8V364.6M440.4,361.8V366.8M450.6,361.8V364.6M456.6,361.8V364.6M460.8,361.8V364.6M464.1,361.8V364.6M466.8,361.8V364.6M469.1,361.8V364.6M471.0,361.8V364.6M472.8,361.8V364.6M474.3,361.8V366.8M484.5,361.8V364.6" fill="none" stroke="#000" stroke-width="1.5"/>
<text x="306.2" y="377.3" font-size="10.2" text-anchor="middle">10<tspan font-size="6.2" dy="-3.6" dx="0.5">-1</tspan></text>
<text x="340.1" y="377.3" font-size="10.2" text-anchor="middle">10<tspan font-size="6.2" dy="-3.6" dx="0.5">0</tspan></text>
<text x="374.0" y="377.3" font-size="10.2" text-anchor="middle">10<tspan font-size="6.2" dy="-3.6" dx="0.5">1</tspan></text>
<text x="407.9" y="377.3" font-size="10.2" text-anchor="middle">10<tspan font-size="6.2" dy="-3.6" dx="0.5">2</tspan></text>
<text x="441.7" y="377.3" font-size="10.2" text-anchor="middle">10<tspan font-size="6.2" dy="-3.6" dx="0.5">3</tspan></text>
<text x="475.6" y="377.3" font-size="10.2" text-anchor="middle">10<tspan font-size="6.2" dy="-3.6" dx="0.5">4</tspan></text>
<text x="395.1" y="387.8" font-size="11.53" text-anchor="middle">Concentration (nM)</text>
<text transform="translate(267.9,303.2) rotate(-90)" x="0" y="0" font-size="11.35" text-anchor="middle">Inhibition of HCoV-NL63</text>
<text transform="translate(282.1,303.2) rotate(-90)" x="0" y="0" font-size="11.35" text-anchor="middle">cell-cell fusion (%)</text>
<path d="M311.5,222.3H324.5" stroke="#e61e1e" stroke-width="1.8"/>
<circle cx="318.0" cy="222.3" r="2.4" fill="#e61e1e"/>
<text transform="translate(331.8,225.30) scale(1,1.1)" font-size="8.66">EK1C4, IC50=21.4 nM</text>
<path d="M311.5,232.3H324.5" stroke="#1414e6" stroke-width="1.8"/>
<rect x="315.7" y="230.0" width="4.6" height="4.6" fill="#1414e6"/>
<text transform="translate(331.8,235.30) scale(1,1.1)" font-size="8.66">EK1, IC50=751.0 nM</text>
<path d="M311.5,242.3H324.5" stroke="#000000" stroke-width="1.8"/>
<polygon points="318.0,245.3 321.0,240.1 315.0,240.1" fill="#000000"/>
<text transform="translate(331.8,245.30) scale(1,1.1)" font-size="8.66">EK1-Scrambled</text>
<polyline points="321.7,351.2 342.1,348.1 362.5,337.9 382.9,310.2 403.3,271.3 423.7,255.9 444.1,253.8 464.5,253.8" fill="none" stroke="#e61e1e" stroke-width="1.7" stroke-linejoin="round"/>
<path d="M321.7,348.1V354.3M318.7,348.1H324.7M318.7,354.3H324.7M342.1,344.0V352.2M339.1,344.0H345.1M339.1,352.2H345.1M362.5,331.7V344.0M359.5,331.7H365.5M359.5,344.0H365.5M382.9,303.0V317.4M379.9,303.0H385.9M379.9,317.4H385.9M403.3,268.2V274.3M400.3,268.2H406.3M400.3,274.3H406.3" fill="none" stroke="#e61e1e" stroke-width="1.5"/>
<circle cx="321.7" cy="351.2" r="2.5" fill="#e61e1e"/>
<circle cx="342.1" cy="348.1" r="2.5" fill="#e61e1e"/>
<circle cx="362.5" cy="337.9" r="2.5" fill="#e61e1e"/>
<circle cx="382.9" cy="310.2" r="2.5" fill="#e61e1e"/>
<circle cx="403.3" cy="271.3" r="2.5" fill="#e61e1e"/>
<circle cx="423.7" cy="255.9" r="2.5" fill="#e61e1e"/>
<circle cx="444.1" cy="253.8" r="2.5" fill="#e61e1e"/>
<circle cx="464.5" cy="253.8" r="2.5" fill="#e61e1e"/>
<polyline points="321.7,352.2 342.1,351.2 362.5,352.2 382.9,347.1 403.3,340.9 423.7,326.6 444.1,274.3 464.5,255.9" fill="none" stroke="#1414e6" stroke-width="1.7" stroke-linejoin="round"/>
<path d="M321.7,348.1V356.3M318.7,348.1H324.7M318.7,356.3H324.7M382.9,345.0V349.1M379.9,345.0H385.9M379.9,349.1H385.9M403.3,337.9V344.0M400.3,337.9H406.3M400.3,344.0H406.3M423.7,322.5V330.7M420.7,322.5H426.7M420.7,330.7H426.7M444.1,271.3V277.4M441.1,271.3H447.1M441.1,277.4H447.1M464.5,253.8V257.9M461.5,253.8H467.5M461.5,257.9H467.5" fill="none" stroke="#1414e6" stroke-width="1.5"/>
<rect x="319.3" y="349.8" width="4.8" height="4.8" fill="#1414e6"/>
<rect x="339.7" y="348.8" width="4.8" height="4.8" fill="#1414e6"/>
<rect x="360.1" y="349.8" width="4.8" height="4.8" fill="#1414e6"/>
<rect x="380.5" y="344.7" width="4.8" height="4.8" fill="#1414e6"/>
<rect x="400.9" y="338.6" width="4.8" height="4.8" fill="#1414e6"/>
<rect x="421.3" y="324.2" width="4.8" height="4.8" fill="#1414e6"/>
<rect x="441.7" y="272.0" width="4.8" height="4.8" fill="#1414e6"/>
<rect x="462.1" y="253.5" width="4.8" height="4.8" fill="#1414e6"/>
<polyline points="321.7,353.2 342.1,352.2 362.5,352.7 382.9,350.7 403.3,350.2 423.7,349.6 444.1,348.1 464.5,346.1" fill="none" stroke="#000000" stroke-width="1.7" stroke-linejoin="round"/>
<path d="M342.1,350.2V354.3M339.1,350.2H345.1M339.1,354.3H345.1M362.5,349.6V355.8M359.5,349.6H365.5M359.5,355.8H365.5M382.9,346.6V354.8M379.9,346.6H385.9M379.9,354.8H385.9M403.3,347.1V353.2M400.3,347.1H406.3M400.3,353.2H406.3M423.7,346.6V352.7M420.7,346.6H426.7M420.7,352.7H426.7M444.1,343.0V353.2M441.1,343.0H447.1M441.1,353.2H447.1M464.5,343.0V349.1M461.5,343.0H467.5M461.5,349.1H467.5" fill="none" stroke="#000000" stroke-width="1.5"/>
<polygon points="321.7,356.4 324.8,350.9 318.6,350.9" fill="#000000"/>
<polygon points="342.1,355.3 345.2,349.9 339.0,349.9" fill="#000000"/>
<polygon points="362.5,355.8 365.6,350.4 359.4,350.4" fill="#000000"/>
<polygon points="382.9,353.8 386.0,348.3 379.8,348.3" fill="#000000"/>
<polygon points="403.3,353.3 406.4,347.8 400.2,347.8" fill="#000000"/>
<polygon points="423.7,352.8 426.8,347.3 420.5,347.3" fill="#000000"/>
<polygon points="444.1,351.2 447.2,345.8 440.9,345.8" fill="#000000"/>
<polygon points="464.5,349.2 467.6,343.7 461.3,343.7" fill="#000000"/>
<text class="lab" transform="translate(510.58,228.20) scale(0.982,1)" font-size="18.90">f</text>
<path d="M555.3,246.5V362.5H726.1" fill="none" stroke="#000" stroke-width="1.9"/>
<text x="549.7" y="360.9" font-size="8.8" text-anchor="end">0</text>
<text x="549.7" y="340.5" font-size="8.8" text-anchor="end">20</text>
<text x="549.7" y="320.2" font-size="8.8" text-anchor="end">40</text>
<text x="549.7" y="299.9" font-size="8.8" text-anchor="end">60</text>
<text x="549.7" y="279.6" font-size="8.8" text-anchor="end">80</text>
<text x="549.7" y="259.2" font-size="8.8" text-anchor="end">100</text>
<path d="M549.8,357.8H555.3M549.8,337.4H555.3M549.8,317.1H555.3M549.8,296.8H555.3M549.8,276.5H555.3M549.8,256.1H555.3M555.4,362.5V367.5M565.1,362.5V365.3M570.7,362.5V365.3M574.7,362.5V365.3M577.8,362.5V365.3M580.4,362.5V365.3M582.5,362.5V365.3M584.4,362.5V365.3M586.0,362.5V365.3M587.5,362.5V367.5M597.2,362.5V365.3M602.8,362.5V365.3M606.8,362.5V365.3M609.9,362.5V365.3M612.5,362.5V365.3M614.6,362.5V365.3M616.5,362.5V365.3M618.1,362.5V365.3M619.6,362.5V367.5M629.2,362.5V365.3M634.9,362.5V365.3M638.9,362.5V365.3M642.0,362.5V365.3M644.5,362.5V365.3M646.7,362.5V365.3M648.6,362.5V365.3M650.2,362.5V365.3M651.7,362.5V367.5M661.3,362.5V365.3M667.0,362.5V365.3M671.0,362.5V365.3M674.1,362.5V365.3M676.6,362.5V365.3M678.8,362.5V365.3M680.6,362.5V365.3M682.3,362.5V365.3M683.7,362.5V367.5M693.4,362.5V365.3M699.0,362.5V365.3M703.1,362.5V365.3M706.2,362.5V365.3M708.7,362.5V365.3M710.9,362.5V365.3M712.7,362.5V365.3M714.4,362.5V365.3M715.8,362.5V367.5M725.5,362.5V365.3" fill="none" stroke="#000" stroke-width="1.5"/>
<text x="556.7" y="378.0" font-size="10.2" text-anchor="middle">10<tspan font-size="6.2" dy="-3.6" dx="0.5">-1</tspan></text>
<text x="588.8" y="378.0" font-size="10.2" text-anchor="middle">10<tspan font-size="6.2" dy="-3.6" dx="0.5">0</tspan></text>
<text x="620.9" y="378.0" font-size="10.2" text-anchor="middle">10<tspan font-size="6.2" dy="-3.6" dx="0.5">1</tspan></text>
<text x="653.0" y="378.0" font-size="10.2" text-anchor="middle">10<tspan font-size="6.2" dy="-3.6" dx="0.5">2</tspan></text>
<text x="685.0" y="378.0" font-size="10.2" text-anchor="middle">10<tspan font-size="6.2" dy="-3.6" dx="0.5">3</tspan></text>
<text x="717.1" y="378.0" font-size="10.2" text-anchor="middle">10<tspan font-size="6.2" dy="-3.6" dx="0.5">4</tspan></text>
<text x="641.2" y="389.9" font-size="10.9" text-anchor="middle">Concentration (nM)</text>
<text transform="translate(520.9,304.5) rotate(-90)" x="0" y="0" font-size="10.7" text-anchor="middle">Inhibition of WIV1</text>
<text transform="translate(534.4,304.5) rotate(-90)" x="0" y="0" font-size="10.7" text-anchor="middle">cell-cell fusion (%)</text>
<path d="M559.9,224.0H572.1" stroke="#e61e1e" stroke-width="1.8"/>
<circle cx="566.0" cy="224.0" r="2.4" fill="#e61e1e"/>
<text transform="translate(579.4,227.00) scale(1,1.1)" font-size="8.22">EK1C4, IC50=4.5 nM</text>
<path d="M559.9,232.9H572.1" stroke="#1414e6" stroke-width="1.8"/>
<polygon points="566.0,235.9 569.0,230.7 563.0,230.7" fill="#1414e6"/>
<text transform="translate(579.4,235.90) scale(1,1.1)" font-size="8.22">EK1, IC50=265.7 nM</text>
<path d="M559.9,241.8H572.1" stroke="#000000" stroke-width="1.8"/>
<polygon points="566.0,238.8 569.0,244.1 563.0,244.1" fill="#000000"/>
<text transform="translate(579.4,244.80) scale(1,1.1)" font-size="8.22">EK1-Scrambled</text>
<polyline points="571.3,351.7 590.6,338.4 609.9,302.9 629.2,269.4 648.6,258.2 667.9,256.1 687.2,256.1 706.5,256.1" fill="none" stroke="#e61e1e" stroke-width="1.7" stroke-linejoin="round"/>
<path d="M590.6,334.4V342.5M587.6,334.4H593.6M587.6,342.5H593.6M609.9,300.9V304.9M606.9,300.9H612.9M606.9,304.9H612.9M629.2,265.3V273.4M626.2,265.3H632.2M626.2,273.4H632.2" fill="none" stroke="#e61e1e" stroke-width="1.5"/>
<circle cx="571.3" cy="351.7" r="2.5" fill="#e61e1e"/>
<circle cx="590.6" cy="338.4" r="2.5" fill="#e61e1e"/>
<circle cx="609.9" cy="302.9" r="2.5" fill="#e61e1e"/>
<circle cx="629.2" cy="269.4" r="2.5" fill="#e61e1e"/>
<circle cx="648.6" cy="258.2" r="2.5" fill="#e61e1e"/>
<circle cx="667.9" cy="256.1" r="2.5" fill="#e61e1e"/>
<circle cx="687.2" cy="256.1" r="2.5" fill="#e61e1e"/>
<circle cx="706.5" cy="256.1" r="2.5" fill="#e61e1e"/>
<polyline points="571.3,354.7 590.6,352.7 609.9,350.6 629.2,346.6 648.6,334.4 667.9,297.8 687.2,270.4 706.5,256.1" fill="none" stroke="#1414e6" stroke-width="1.7" stroke-linejoin="round"/>
<path d="M571.3,351.7V357.8M568.3,351.7H574.3M568.3,357.8H574.3M590.6,346.6V358.8M587.6,346.6H593.6M587.6,358.8H593.6M609.9,347.6V353.7M606.9,347.6H612.9M606.9,353.7H612.9M629.2,344.5V348.6M626.2,344.5H632.2M626.2,348.6H632.2M648.6,331.3V337.4M645.6,331.3H651.6M645.6,337.4H651.6M667.9,295.8V299.8M664.9,295.8H670.9M664.9,299.8H670.9M687.2,265.3V275.5M684.2,265.3H690.2M684.2,275.5H690.2" fill="none" stroke="#1414e6" stroke-width="1.5"/>
<polygon points="571.3,357.8 574.4,352.4 568.2,352.4" fill="#1414e6"/>
<polygon points="590.6,355.8 593.7,350.3 587.5,350.3" fill="#1414e6"/>
<polygon points="609.9,353.8 613.0,348.3 606.8,348.3" fill="#1414e6"/>
<polygon points="629.2,349.7 632.4,344.2 626.1,344.2" fill="#1414e6"/>
<polygon points="648.6,337.5 651.7,332.0 645.4,332.0" fill="#1414e6"/>
<polygon points="667.9,300.9 671.0,295.5 664.7,295.5" fill="#1414e6"/>
<polygon points="687.2,273.5 690.3,268.0 684.1,268.0" fill="#1414e6"/>
<polygon points="706.5,259.3 709.6,253.8 703.4,253.8" fill="#1414e6"/>
<polyline points="571.3,350.6 590.6,350.6 609.9,352.7 629.2,350.1 648.6,349.6 667.9,353.7 687.2,351.7 706.5,352.7" fill="none" stroke="#000000" stroke-width="1.7" stroke-linejoin="round"/>
<path d="M571.3,348.6V352.7M568.3,348.6H574.3M568.3,352.7H574.3M590.6,348.6V352.7M587.6,348.6H593.6M587.6,352.7H593.6M609.9,349.6V355.7M606.9,349.6H612.9M606.9,355.7H612.9M629.2,347.1V353.2M626.2,347.1H632.2M626.2,353.2H632.2M648.6,343.5V355.7M645.6,343.5H651.6M645.6,355.7H651.6M667.9,348.6V358.8M664.9,348.6H670.9M664.9,358.8H670.9M687.2,347.6V355.7M684.2,347.6H690.2M684.2,355.7H690.2M706.5,344.5V360.8M703.5,344.5H709.5M703.5,360.8H709.5" fill="none" stroke="#000000" stroke-width="1.5"/>
<polygon points="571.3,347.5 574.4,353.0 568.2,353.0" fill="#000000"/>
<polygon points="590.6,347.5 593.7,353.0 587.5,353.0" fill="#000000"/>
<polygon points="609.9,349.5 613.0,355.0 606.8,355.0" fill="#000000"/>
<polygon points="629.2,347.0 632.4,352.5 626.1,352.5" fill="#000000"/>
<polygon points="648.6,346.5 651.7,352.0 645.4,352.0" fill="#000000"/>
<polygon points="667.9,350.6 671.0,356.0 664.7,356.0" fill="#000000"/>
<polygon points="687.2,348.5 690.3,354.0 684.1,354.0" fill="#000000"/>
<polygon points="706.5,349.5 709.6,355.0 703.4,355.0" fill="#000000"/>
<text class="lab" transform="translate(0.92,426.70) scale(1.023,1)" font-size="18.12" font-family="Liberation Serif">g</text>
<path d="M48.4,443.5V555.6H229.5" fill="none" stroke="#000" stroke-width="1.9"/>
<text x="42.8" y="553.8" font-size="8.8" text-anchor="end">0</text>
<text x="42.8" y="534.0" font-size="8.8" text-anchor="end">20</text>
<text x="42.8" y="514.3" font-size="8.8" text-anchor="end">40</text>
<text x="42.8" y="494.5" font-size="8.8" text-anchor="end">60</text>
<text x="42.8" y="474.7" font-size="8.8" text-anchor="end">80</text>
<text x="42.8" y="455.0" font-size="8.8" text-anchor="end">100</text>
<path d="M42.9,550.7H48.4M42.9,530.9H48.4M42.9,511.2H48.4M42.9,491.4H48.4M42.9,471.6H48.4M42.9,451.9H48.4M48.0,555.6V560.6M58.3,555.6V558.4M64.3,555.6V558.4M68.6,555.6V558.4M71.9,555.6V558.4M74.6,555.6V558.4M76.9,555.6V558.4M78.9,555.6V558.4M80.6,555.6V558.4M82.2,555.6V560.6M92.5,555.6V558.4M98.5,555.6V558.4M102.8,555.6V558.4M106.1,555.6V558.4M108.9,555.6V558.4M111.1,555.6V558.4M113.1,555.6V558.4M114.9,555.6V558.4M116.5,555.6V560.6M126.8,555.6V558.4M132.8,555.6V558.4M137.1,555.6V558.4M140.4,555.6V558.4M143.1,555.6V558.4M145.4,555.6V558.4M147.4,555.6V558.4M149.1,555.6V558.4M150.7,555.6V560.6M161.0,555.6V558.4M167.0,555.6V558.4M171.3,555.6V558.4M174.6,555.6V558.4M177.4,555.6V558.4M179.6,555.6V558.4M181.6,555.6V558.4M183.4,555.6V558.4M184.9,555.6V560.6M195.3,555.6V558.4M201.3,555.6V558.4M205.6,555.6V558.4M208.9,555.6V558.4M211.6,555.6V558.4M213.9,555.6V558.4M215.9,555.6V558.4M217.6,555.6V558.4M219.2,555.6V560.6M229.5,555.6V558.4" fill="none" stroke="#000" stroke-width="1.5"/>
<text x="49.2" y="571.1" font-size="10.2" text-anchor="middle">10<tspan font-size="6.2" dy="-3.6" dx="0.5">-1</tspan></text>
<text x="83.5" y="571.1" font-size="10.2" text-anchor="middle">10<tspan font-size="6.2" dy="-3.6" dx="0.5">0</tspan></text>
<text x="117.8" y="571.1" font-size="10.2" text-anchor="middle">10<tspan font-size="6.2" dy="-3.6" dx="0.5">1</tspan></text>
<text x="152.0" y="571.1" font-size="10.2" text-anchor="middle">10<tspan font-size="6.2" dy="-3.6" dx="0.5">2</tspan></text>
<text x="186.2" y="571.1" font-size="10.2" text-anchor="middle">10<tspan font-size="6.2" dy="-3.6" dx="0.5">3</tspan></text>
<text x="220.5" y="571.1" font-size="10.2" text-anchor="middle">10<tspan font-size="6.2" dy="-3.6" dx="0.5">4</tspan></text>
<text x="139.2" y="581.8" font-size="11.53" text-anchor="middle">Concentration (nM)</text>
<text transform="translate(13.8,499.6) rotate(-90)" x="0" y="0" font-size="10.7" text-anchor="middle">Inhibition of Rs3367</text>
<text transform="translate(25.8,499.6) rotate(-90)" x="0" y="0" font-size="10.7" text-anchor="middle">cell-cell fusion (%)</text>
<path d="M53.1,426.1H65.8" stroke="#e61e1e" stroke-width="1.8"/>
<circle cx="59.5" cy="426.1" r="2.4" fill="#e61e1e"/>
<text transform="translate(73.9,429.10) scale(1,1.1)" font-size="8.61">EK1C4, IC50=8.1 nM</text>
<path d="M53.1,434.5H65.8" stroke="#1414e6" stroke-width="1.8"/>
<polygon points="59.5,437.5 62.5,432.2 56.5,432.2" fill="#1414e6"/>
<text transform="translate(73.9,437.45) scale(1,1.1)" font-size="8.61">EK1, IC50=237.0 nM</text>
<path d="M53.1,442.8H65.8" stroke="#000000" stroke-width="1.8"/>
<polygon points="59.5,445.8 62.5,440.6 56.5,440.6" fill="#000000"/>
<text transform="translate(73.9,445.80) scale(1,1.1)" font-size="8.61">EK1-Scrambled</text>
<polyline points="65.7,545.8 86.1,533.9 106.4,500.3 126.8,470.6 147.1,454.8 167.5,451.9 187.8,451.9 208.2,451.9" fill="none" stroke="#e61e1e" stroke-width="1.7" stroke-linejoin="round"/>
<path d="M86.1,530.9V536.9M83.1,530.9H89.1M83.1,536.9H89.1M106.4,498.3V502.3M103.4,498.3H109.4M103.4,502.3H109.4M126.8,467.7V473.6M123.8,467.7H129.8M123.8,473.6H129.8M147.1,452.8V456.8M144.1,452.8H150.1M144.1,456.8H150.1" fill="none" stroke="#e61e1e" stroke-width="1.5"/>
<circle cx="65.7" cy="545.8" r="2.5" fill="#e61e1e"/>
<circle cx="86.1" cy="533.9" r="2.5" fill="#e61e1e"/>
<circle cx="106.4" cy="500.3" r="2.5" fill="#e61e1e"/>
<circle cx="126.8" cy="470.6" r="2.5" fill="#e61e1e"/>
<circle cx="147.1" cy="454.8" r="2.5" fill="#e61e1e"/>
<circle cx="167.5" cy="451.9" r="2.5" fill="#e61e1e"/>
<circle cx="187.8" cy="451.9" r="2.5" fill="#e61e1e"/>
<circle cx="208.2" cy="451.9" r="2.5" fill="#e61e1e"/>
<polyline points="65.7,545.8 86.1,544.8 106.4,544.8 126.8,540.8 147.1,525.0 167.5,486.4 187.8,458.8 208.2,451.9" fill="none" stroke="#1414e6" stroke-width="1.7" stroke-linejoin="round"/>
<path d="M65.7,543.8V547.7M62.7,543.8H68.7M62.7,547.7H68.7M86.1,541.8V547.7M83.1,541.8H89.1M83.1,547.7H89.1M106.4,540.8V548.7M103.4,540.8H109.4M103.4,548.7H109.4M147.1,521.0V529.0M144.1,521.0H150.1M144.1,529.0H150.1M167.5,478.5V494.4M164.5,478.5H170.5M164.5,494.4H170.5" fill="none" stroke="#1414e6" stroke-width="1.5"/>
<polygon points="65.7,548.9 68.9,543.4 62.6,543.4" fill="#1414e6"/>
<polygon points="86.1,547.9 89.2,542.4 83.0,542.4" fill="#1414e6"/>
<polygon points="106.4,547.9 109.6,542.4 103.3,542.4" fill="#1414e6"/>
<polygon points="126.8,543.9 129.9,538.5 123.6,538.5" fill="#1414e6"/>
<polygon points="147.1,528.1 150.2,522.7 144.0,522.7" fill="#1414e6"/>
<polygon points="167.5,489.6 170.6,484.1 164.3,484.1" fill="#1414e6"/>
<polygon points="187.8,461.9 190.9,456.4 184.7,456.4" fill="#1414e6"/>
<polygon points="208.2,455.0 211.3,449.5 205.0,449.5" fill="#1414e6"/>
<polyline points="65.7,547.7 86.1,548.7 106.4,547.7 126.8,542.8 147.1,543.3 167.5,545.3 187.8,546.7 208.2,549.7" fill="none" stroke="#000000" stroke-width="1.7" stroke-linejoin="round"/>
<path d="M86.1,544.8V552.7M83.1,544.8H89.1M83.1,552.7H89.1M106.4,545.8V549.7M103.4,545.8H109.4M103.4,549.7H109.4M167.5,543.3V547.2M164.5,543.3H170.5M164.5,547.2H170.5M187.8,543.8V549.7M184.8,543.8H190.8M184.8,549.7H190.8" fill="none" stroke="#000000" stroke-width="1.5"/>
<polygon points="65.7,550.9 68.9,545.4 62.6,545.4" fill="#000000"/>
<polygon points="86.1,551.8 89.2,546.4 83.0,546.4" fill="#000000"/>
<polygon points="106.4,550.9 109.6,545.4 103.3,545.4" fill="#000000"/>
<polygon points="126.8,545.9 129.9,540.4 123.6,540.4" fill="#000000"/>
<polygon points="147.1,546.4 150.2,540.9 144.0,540.9" fill="#000000"/>
<polygon points="167.5,548.4 170.6,542.9 164.3,542.9" fill="#000000"/>
<polygon points="187.8,549.9 190.9,544.4 184.7,544.4" fill="#000000"/>
<polygon points="208.2,552.8 211.3,547.4 205.0,547.4" fill="#000000"/>
<text class="lab" transform="translate(256.64,429.30) scale(0.910,1)" font-size="19.72">h</text>
<path d="M306.0,444.5V555.5H483.1" fill="none" stroke="#000" stroke-width="1.9"/>
<text x="300.4" y="553.8" font-size="8.8" text-anchor="end">0</text>
<text x="300.4" y="534.3" font-size="8.8" text-anchor="end">20</text>
<text x="300.4" y="514.9" font-size="8.8" text-anchor="end">40</text>
<text x="300.4" y="495.4" font-size="8.8" text-anchor="end">60</text>
<text x="300.4" y="475.9" font-size="8.8" text-anchor="end">80</text>
<text x="300.4" y="456.5" font-size="8.8" text-anchor="end">100</text>
<path d="M300.5,550.7H306.0M300.5,531.2H306.0M300.5,511.8H306.0M300.5,492.3H306.0M300.5,472.8H306.0M300.5,453.4H306.0M305.2,555.5V560.5M315.3,555.5V558.3M321.3,555.5V558.3M325.4,555.5V558.3M328.7,555.5V558.3M331.4,555.5V558.3M333.6,555.5V558.3M335.5,555.5V558.3M337.3,555.5V558.3M338.8,555.5V560.5M348.9,555.5V558.3M354.8,555.5V558.3M359.0,555.5V558.3M362.3,555.5V558.3M364.9,555.5V558.3M367.2,555.5V558.3M369.1,555.5V558.3M370.8,555.5V558.3M372.4,555.5V560.5M382.4,555.5V558.3M388.4,555.5V558.3M392.5,555.5V558.3M395.8,555.5V558.3M398.5,555.5V558.3M400.7,555.5V558.3M402.6,555.5V558.3M404.4,555.5V558.3M405.9,555.5V560.5M416.0,555.5V558.3M421.9,555.5V558.3M426.1,555.5V558.3M429.4,555.5V558.3M432.0,555.5V558.3M434.3,555.5V558.3M436.2,555.5V558.3M437.9,555.5V558.3M439.4,555.5V560.5M449.5,555.5V558.3M455.5,555.5V558.3M459.6,555.5V558.3M462.9,555.5V558.3M465.6,555.5V558.3M467.8,555.5V558.3M469.7,555.5V558.3M471.5,555.5V558.3M473.0,555.5V560.5M483.1,555.5V558.3" fill="none" stroke="#000" stroke-width="1.5"/>
<text x="306.6" y="571.0" font-size="10.2" text-anchor="middle">10<tspan font-size="6.2" dy="-3.6" dx="0.5">-1</tspan></text>
<text x="340.1" y="571.0" font-size="10.2" text-anchor="middle">10<tspan font-size="6.2" dy="-3.6" dx="0.5">0</tspan></text>
<text x="373.7" y="571.0" font-size="10.2" text-anchor="middle">10<tspan font-size="6.2" dy="-3.6" dx="0.5">1</tspan></text>
<text x="407.2" y="571.0" font-size="10.2" text-anchor="middle">10<tspan font-size="6.2" dy="-3.6" dx="0.5">2</tspan></text>
<text x="440.8" y="571.0" font-size="10.2" text-anchor="middle">10<tspan font-size="6.2" dy="-3.6" dx="0.5">3</tspan></text>
<text x="474.3" y="571.0" font-size="10.2" text-anchor="middle">10<tspan font-size="6.2" dy="-3.6" dx="0.5">4</tspan></text>
<text x="394.8" y="581.8" font-size="11.42" text-anchor="middle">Concentration (nM)</text>
<text transform="translate(270.9,500.0) rotate(-90)" x="0" y="0" font-size="10.7" text-anchor="middle">Inhibition of SHC014</text>
<text transform="translate(284.4,500.0) rotate(-90)" x="0" y="0" font-size="10.7" text-anchor="middle">cell-cell fusion (%)</text>
<path d="M313.9,427.4H326.1" stroke="#e61e1e" stroke-width="1.8"/>
<circle cx="320.0" cy="427.4" r="2.4" fill="#e61e1e"/>
<text transform="translate(333.9,430.40) scale(1,1.1)" font-size="8.57">EK1C4, IC50=4.3 nM</text>
<path d="M313.9,436.1H326.1" stroke="#1414e6" stroke-width="1.8"/>
<polygon points="320.0,439.1 323.0,433.9 317.0,433.9" fill="#1414e6"/>
<text transform="translate(333.9,439.15) scale(1,1.1)" font-size="8.57">EK1, IC50=279.6 nM</text>
<path d="M313.9,444.9H326.1" stroke="#000000" stroke-width="1.8"/>
<polygon points="320.0,447.9 323.0,442.6 317.0,442.6" fill="#000000"/>
<text transform="translate(333.9,447.90) scale(1,1.1)" font-size="8.57">EK1-Scrambled</text>
<polyline points="322.6,543.9 342.6,537.1 362.6,492.3 382.6,468.0 402.6,455.3 422.6,453.4 442.6,453.4 462.5,453.4" fill="none" stroke="#e61e1e" stroke-width="1.7" stroke-linejoin="round"/>
<path d="M322.6,541.9V545.8M319.6,541.9H325.6M319.6,545.8H325.6M342.6,535.1V539.0M339.6,535.1H345.6M339.6,539.0H345.6M362.6,488.4V496.2M359.6,488.4H365.6M359.6,496.2H365.6M382.6,465.0V470.9M379.6,465.0H385.6M379.6,470.9H385.6" fill="none" stroke="#e61e1e" stroke-width="1.5"/>
<circle cx="322.6" cy="543.9" r="2.5" fill="#e61e1e"/>
<circle cx="342.6" cy="537.1" r="2.5" fill="#e61e1e"/>
<circle cx="362.6" cy="492.3" r="2.5" fill="#e61e1e"/>
<circle cx="382.6" cy="468.0" r="2.5" fill="#e61e1e"/>
<circle cx="402.6" cy="455.3" r="2.5" fill="#e61e1e"/>
<circle cx="422.6" cy="453.4" r="2.5" fill="#e61e1e"/>
<circle cx="442.6" cy="453.4" r="2.5" fill="#e61e1e"/>
<circle cx="462.5" cy="453.4" r="2.5" fill="#e61e1e"/>
<polyline points="322.6,547.8 342.6,543.9 362.6,545.8 382.6,543.9 402.6,533.2 422.6,495.2 442.6,466.0 462.5,455.3" fill="none" stroke="#1414e6" stroke-width="1.7" stroke-linejoin="round"/>
<path d="M322.6,543.9V551.7M319.6,543.9H325.6M319.6,551.7H325.6M342.6,540.0V547.8M339.6,540.0H345.6M339.6,547.8H345.6M362.6,542.9V548.8M359.6,542.9H365.6M359.6,548.8H365.6M382.6,541.0V546.8M379.6,541.0H385.6M379.6,546.8H385.6M402.6,530.3V536.1M399.6,530.3H405.6M399.6,536.1H405.6M422.6,490.3V500.1M419.6,490.3H425.6M419.6,500.1H425.6M442.6,463.1V468.9M439.6,463.1H445.6M439.6,468.9H445.6" fill="none" stroke="#1414e6" stroke-width="1.5"/>
<polygon points="322.6,550.9 325.8,545.4 319.5,545.4" fill="#1414e6"/>
<polygon points="342.6,547.0 345.7,541.5 339.5,541.5" fill="#1414e6"/>
<polygon points="362.6,549.0 365.7,543.5 359.5,543.5" fill="#1414e6"/>
<polygon points="382.6,547.0 385.7,541.5 379.5,541.5" fill="#1414e6"/>
<polygon points="402.6,536.3 405.7,530.8 399.5,530.8" fill="#1414e6"/>
<polygon points="422.6,498.3 425.7,492.9 419.4,492.9" fill="#1414e6"/>
<polygon points="442.6,469.1 445.7,463.7 439.4,463.7" fill="#1414e6"/>
<polygon points="462.5,458.4 465.7,453.0 459.4,453.0" fill="#1414e6"/>
<polyline points="322.6,545.8 342.6,547.8 362.6,549.7 382.6,548.8 402.6,548.8 422.6,549.2 442.6,545.8 462.5,547.8" fill="none" stroke="#000000" stroke-width="1.7" stroke-linejoin="round"/>
<path d="M322.6,542.9V548.8M319.6,542.9H325.6M319.6,548.8H325.6M382.6,545.8V551.7M379.6,545.8H385.6M379.6,551.7H385.6M442.6,542.9V548.8M439.6,542.9H445.6M439.6,548.8H445.6M462.5,544.9V550.7M459.5,544.9H465.5M459.5,550.7H465.5" fill="none" stroke="#000000" stroke-width="1.5"/>
<polygon points="322.6,549.0 325.8,543.5 319.5,543.5" fill="#000000"/>
<polygon points="342.6,550.9 345.7,545.4 339.5,545.4" fill="#000000"/>
<polygon points="362.6,552.9 365.7,547.4 359.5,547.4" fill="#000000"/>
<polygon points="382.6,551.9 385.7,546.4 379.5,546.4" fill="#000000"/>
<polygon points="402.6,551.9 405.7,546.4 399.5,546.4" fill="#000000"/>
<polygon points="422.6,552.4 425.7,546.9 419.4,546.9" fill="#000000"/>
<polygon points="442.6,549.0 445.7,543.5 439.4,543.5" fill="#000000"/>
<polygon points="462.5,550.9 465.7,545.4 459.4,545.4" fill="#000000"/>
<text class="lab" transform="translate(509.72,428.50) scale(1.035,1)" font-size="19.03">i</text>
<path d="M556.0,442.5V555.8H728.6" fill="none" stroke="#000" stroke-width="1.9"/>
<text x="550.4" y="553.8" font-size="8.8" text-anchor="end">0</text>
<text x="550.4" y="534.1" font-size="8.8" text-anchor="end">20</text>
<text x="550.4" y="514.4" font-size="8.8" text-anchor="end">40</text>
<text x="550.4" y="494.8" font-size="8.8" text-anchor="end">60</text>
<text x="550.4" y="475.1" font-size="8.8" text-anchor="end">80</text>
<text x="550.4" y="455.4" font-size="8.8" text-anchor="end">100</text>
<path d="M550.5,550.7H556.0M550.5,531.0H556.0M550.5,511.3H556.0M550.5,491.7H556.0M550.5,472.0H556.0M550.5,452.3H556.0M578.8,555.8V560.8M588.3,555.8V558.6M593.9,555.8V558.6M597.9,555.8V558.6M600.9,555.8V558.6M603.4,555.8V558.6M605.6,555.8V558.6M607.4,555.8V558.6M609.0,555.8V558.6M610.5,555.8V560.8M620.0,555.8V558.6M625.6,555.8V558.6M629.5,555.8V558.6M632.6,555.8V558.6M635.1,555.8V558.6M637.2,555.8V558.6M639.1,555.8V558.6M640.7,555.8V558.6M642.1,555.8V560.8M651.7,555.8V558.6M657.2,555.8V558.6M661.2,555.8V558.6M664.2,555.8V558.6M666.8,555.8V558.6M668.9,555.8V558.6M670.7,555.8V558.6M672.3,555.8V558.6M673.8,555.8V560.8M683.3,555.8V558.6M688.9,555.8V558.6M692.8,555.8V558.6M695.9,555.8V558.6M698.4,555.8V558.6M700.5,555.8V558.6M702.4,555.8V558.6M704.0,555.8V558.6M705.4,555.8V560.8M715.0,555.8V558.6M720.5,555.8V558.6M724.5,555.8V558.6M727.6,555.8V558.6" fill="none" stroke="#000" stroke-width="1.5"/>
<text x="580.1" y="571.3" font-size="10.2" text-anchor="middle">10<tspan font-size="6.2" dy="-3.6" dx="0.5">0</tspan></text>
<text x="611.8" y="571.3" font-size="10.2" text-anchor="middle">10<tspan font-size="6.2" dy="-3.6" dx="0.5">1</tspan></text>
<text x="643.4" y="571.3" font-size="10.2" text-anchor="middle">10<tspan font-size="6.2" dy="-3.6" dx="0.5">2</tspan></text>
<text x="675.1" y="571.3" font-size="10.2" text-anchor="middle">10<tspan font-size="6.2" dy="-3.6" dx="0.5">3</tspan></text>
<text x="706.7" y="571.3" font-size="10.2" text-anchor="middle">10<tspan font-size="6.2" dy="-3.6" dx="0.5">4</tspan></text>
<text x="641.7" y="582.9" font-size="11.0" text-anchor="middle">Concentration (nM)</text>
<text transform="translate(522.3,499.1) rotate(-90)" x="0" y="0" font-size="10.8" text-anchor="middle">Inhibition of SARS-CoV</text>
<text transform="translate(534.4,499.1) rotate(-90)" x="0" y="0" font-size="10.8" text-anchor="middle">PsV  infection (%)</text>
<path d="M563.9,425.4H576.1" stroke="#e61e1e" stroke-width="1.8"/>
<circle cx="570.0" cy="425.4" r="2.4" fill="#e61e1e"/>
<text transform="translate(583.0,428.40) scale(1,1.1)" font-size="8.35">EK1C4, IC50=11.7 nM</text>
<path d="M563.9,433.7H576.1" stroke="#1414e6" stroke-width="1.8"/>
<rect x="567.7" y="431.4" width="4.6" height="4.6" fill="#1414e6"/>
<text transform="translate(583.0,436.70) scale(1,1.1)" font-size="8.35">EK1, IC50=3237.0 nM</text>
<path d="M563.9,442.0H576.1" stroke="#000000" stroke-width="1.8"/>
<polygon points="570.0,445.0 573.0,439.8 567.0,439.8" fill="#000000"/>
<text transform="translate(583.0,445.00) scale(1,1.1)" font-size="8.35">EK1-Scrambled</text>
<polyline points="581.9,537.9 600.9,509.4 620.0,483.8 639.1,467.1 658.1,456.2 677.2,453.3 696.2,452.3" fill="none" stroke="#e61e1e" stroke-width="1.7" stroke-linejoin="round"/>
<path d="M581.9,532.0V543.8M578.9,532.0H584.9M578.9,543.8H584.9M600.9,504.5V514.3M597.9,504.5H603.9M597.9,514.3H603.9M620.0,478.9V488.7M617.0,478.9H623.0M617.0,488.7H623.0M639.1,464.1V470.0M636.1,464.1H642.1M636.1,470.0H642.1" fill="none" stroke="#e61e1e" stroke-width="1.5"/>
<circle cx="581.9" cy="537.9" r="2.5" fill="#e61e1e"/>
<circle cx="600.9" cy="509.4" r="2.5" fill="#e61e1e"/>
<circle cx="620.0" cy="483.8" r="2.5" fill="#e61e1e"/>
<circle cx="639.1" cy="467.1" r="2.5" fill="#e61e1e"/>
<circle cx="658.1" cy="456.2" r="2.5" fill="#e61e1e"/>
<circle cx="677.2" cy="453.3" r="2.5" fill="#e61e1e"/>
<circle cx="696.2" cy="452.3" r="2.5" fill="#e61e1e"/>
<polyline points="600.9,542.8 620.0,541.8 639.1,539.9 658.1,532.0 677.2,518.2 696.2,480.8 715.3,467.1" fill="none" stroke="#1414e6" stroke-width="1.7" stroke-linejoin="round"/>
<path d="M600.9,539.9V545.8M597.9,539.9H603.9M597.9,545.8H603.9M620.0,538.9V544.8M617.0,538.9H623.0M617.0,544.8H623.0M639.1,537.9V541.8M636.1,537.9H642.1M636.1,541.8H642.1M677.2,512.3V524.1M674.2,512.3H680.2M674.2,524.1H680.2M696.2,476.9V484.8M693.2,476.9H699.2M693.2,484.8H699.2" fill="none" stroke="#1414e6" stroke-width="1.5"/>
<rect x="598.6" y="540.5" width="4.8" height="4.8" fill="#1414e6"/>
<rect x="617.6" y="539.5" width="4.8" height="4.8" fill="#1414e6"/>
<rect x="636.7" y="537.5" width="4.8" height="4.8" fill="#1414e6"/>
<rect x="655.7" y="529.6" width="4.8" height="4.8" fill="#1414e6"/>
<rect x="674.8" y="515.9" width="4.8" height="4.8" fill="#1414e6"/>
<rect x="693.9" y="478.5" width="4.8" height="4.8" fill="#1414e6"/>
<rect x="712.9" y="464.7" width="4.8" height="4.8" fill="#1414e6"/>
<polyline points="600.9,539.9 620.0,540.9 639.1,541.8 658.1,543.8 677.2,541.4 696.2,541.8 715.3,544.3" fill="none" stroke="#000000" stroke-width="1.7" stroke-linejoin="round"/>
<path d="M600.9,535.9V543.8M597.9,535.9H603.9M597.9,543.8H603.9M620.0,537.9V543.8M617.0,537.9H623.0M617.0,543.8H623.0M639.1,537.9V545.8M636.1,537.9H642.1M636.1,545.8H642.1M658.1,539.9V547.7M655.1,539.9H661.1M655.1,547.7H661.1M677.2,536.4V546.3M674.2,536.4H680.2M674.2,546.3H680.2M696.2,533.0V550.7M693.2,533.0H699.2M693.2,550.7H699.2M715.3,540.4V548.2M712.3,540.4H718.3M712.3,548.2H718.3" fill="none" stroke="#000000" stroke-width="1.5"/>
<polygon points="600.9,543.0 604.1,537.5 597.8,537.5" fill="#000000"/>
<polygon points="620.0,544.0 623.1,538.5 616.9,538.5" fill="#000000"/>
<polygon points="639.1,545.0 642.2,539.5 635.9,539.5" fill="#000000"/>
<polygon points="658.1,546.9 661.2,541.5 655.0,541.5" fill="#000000"/>
<polygon points="677.2,544.5 680.3,539.0 674.0,539.0" fill="#000000"/>
<polygon points="696.2,545.0 699.4,539.5 693.1,539.5" fill="#000000"/>
<polygon points="715.3,547.4 718.4,542.0 712.2,542.0" fill="#000000"/>
<text class="lab" transform="translate(0.59,612.23) scale(1.103,1)" font-size="16.18">j</text>
<path d="M47.6,635.5V751.5H225.2" fill="none" stroke="#000" stroke-width="1.9"/>
<text x="42.0" y="749.4" font-size="8.8" text-anchor="end">0</text>
<text x="42.0" y="729.0" font-size="8.8" text-anchor="end">20</text>
<text x="42.0" y="708.7" font-size="8.8" text-anchor="end">40</text>
<text x="42.0" y="688.4" font-size="8.8" text-anchor="end">60</text>
<text x="42.0" y="668.0" font-size="8.8" text-anchor="end">80</text>
<text x="42.0" y="647.6" font-size="8.8" text-anchor="end">100</text>
<path d="M42.1,746.3H47.6M42.1,725.9H47.6M42.1,705.6H47.6M42.1,685.2H47.6M42.1,664.9H47.6M42.1,644.5H47.6M47.7,751.5V756.5M57.8,751.5V754.3M63.7,751.5V754.3M67.9,751.5V754.3M71.1,751.5V754.3M73.8,751.5V754.3M76.0,751.5V754.3M78.0,751.5V754.3M79.7,751.5V754.3M81.2,751.5V756.5M91.3,751.5V754.3M97.2,751.5V754.3M101.4,751.5V754.3M104.6,751.5V754.3M107.3,751.5V754.3M109.5,751.5V754.3M111.5,751.5V754.3M113.2,751.5V754.3M114.7,751.5V756.5M124.8,751.5V754.3M130.7,751.5V754.3M134.9,751.5V754.3M138.1,751.5V754.3M140.8,751.5V754.3M143.0,751.5V754.3M145.0,751.5V754.3M146.7,751.5V754.3M148.2,751.5V756.5M158.3,751.5V754.3M164.2,751.5V754.3M168.4,751.5V754.3M171.6,751.5V754.3M174.3,751.5V754.3M176.5,751.5V754.3M178.5,751.5V754.3M180.2,751.5V754.3M181.7,751.5V756.5M191.8,751.5V754.3M197.7,751.5V754.3M201.9,751.5V754.3M205.1,751.5V754.3M207.8,751.5V754.3M210.0,751.5V754.3M212.0,751.5V754.3M213.7,751.5V754.3M215.2,751.5V756.5M225.3,751.5V754.3" fill="none" stroke="#000" stroke-width="1.5"/>
<text x="49.0" y="767.0" font-size="10.2" text-anchor="middle">10<tspan font-size="6.2" dy="-3.6" dx="0.5">-1</tspan></text>
<text x="82.5" y="767.0" font-size="10.2" text-anchor="middle">10<tspan font-size="6.2" dy="-3.6" dx="0.5">0</tspan></text>
<text x="116.0" y="767.0" font-size="10.2" text-anchor="middle">10<tspan font-size="6.2" dy="-3.6" dx="0.5">1</tspan></text>
<text x="149.5" y="767.0" font-size="10.2" text-anchor="middle">10<tspan font-size="6.2" dy="-3.6" dx="0.5">2</tspan></text>
<text x="183.0" y="767.0" font-size="10.2" text-anchor="middle">10<tspan font-size="6.2" dy="-3.6" dx="0.5">3</tspan></text>
<text x="216.5" y="767.0" font-size="10.2" text-anchor="middle">10<tspan font-size="6.2" dy="-3.6" dx="0.5">4</tspan></text>
<text x="137.3" y="778.8" font-size="11.53" text-anchor="middle">Concentration (nM)</text>
<text transform="translate(10.9,693.5) rotate(-90)" x="0" y="0" font-size="11.25" text-anchor="middle">Inhibition of MERS-CoV</text>
<text transform="translate(25.1,693.5) rotate(-90)" x="0" y="0" font-size="11.25" text-anchor="middle">PsV infection (%)</text>
<path d="M54.9,615.6H67.9" stroke="#e61e1e" stroke-width="1.8"/>
<circle cx="61.4" cy="615.6" r="2.4" fill="#e61e1e"/>
<text transform="translate(75.7,618.60) scale(1,1.1)" font-size="8.73">EK1C4, IC50=11.1 nM</text>
<path d="M54.9,625.1H67.9" stroke="#1414e6" stroke-width="1.8"/>
<rect x="59.1" y="622.8" width="4.6" height="4.6" fill="#1414e6"/>
<text transform="translate(75.7,628.10) scale(1,1.1)" font-size="8.73">EK1, IC50=631.8 nM</text>
<path d="M54.9,634.6H67.9" stroke="#000000" stroke-width="1.8"/>
<polygon points="61.4,637.6 64.4,632.4 58.4,632.4" fill="#000000"/>
<text transform="translate(75.7,637.60) scale(1,1.1)" font-size="8.73">EK1-Scrambled</text>
<polyline points="64.2,740.2 84.5,722.9 104.8,702.5 125.1,674.1 145.4,654.7 165.7,648.6 186.0,646.6" fill="none" stroke="#e61e1e" stroke-width="1.7" stroke-linejoin="round"/>
<path d="M84.5,720.9V724.9M81.5,720.9H87.5M81.5,724.9H87.5M104.8,699.5V705.6M101.8,699.5H107.8M101.8,705.6H107.8M125.1,664.9V683.2M122.1,664.9H128.1M122.1,683.2H128.1M145.4,652.7V656.8M142.4,652.7H148.4M142.4,656.8H148.4" fill="none" stroke="#e61e1e" stroke-width="1.5"/>
<circle cx="64.2" cy="740.2" r="2.5" fill="#e61e1e"/>
<circle cx="84.5" cy="722.9" r="2.5" fill="#e61e1e"/>
<circle cx="104.8" cy="702.5" r="2.5" fill="#e61e1e"/>
<circle cx="125.1" cy="674.1" r="2.5" fill="#e61e1e"/>
<circle cx="145.4" cy="654.7" r="2.5" fill="#e61e1e"/>
<circle cx="165.7" cy="648.6" r="2.5" fill="#e61e1e"/>
<circle cx="186.0" cy="646.6" r="2.5" fill="#e61e1e"/>
<polyline points="84.5,739.2 104.8,739.2 125.1,731.0 145.4,713.7 165.7,692.4 186.0,673.0 206.3,659.8" fill="none" stroke="#1414e6" stroke-width="1.7" stroke-linejoin="round"/>
<path d="M84.5,735.1V743.2M81.5,735.1H87.5M81.5,743.2H87.5M104.8,736.1V742.2M101.8,736.1H107.8M101.8,742.2H107.8M125.1,725.9V736.1M122.1,725.9H128.1M122.1,736.1H128.1M145.4,706.6V720.9M142.4,706.6H148.4M142.4,720.9H148.4M165.7,684.2V700.5M162.7,684.2H168.7M162.7,700.5H168.7M186.0,668.0V678.1M183.0,668.0H189.0M183.0,678.1H189.0M206.3,653.7V665.9M203.3,653.7H209.3M203.3,665.9H209.3" fill="none" stroke="#1414e6" stroke-width="1.5"/>
<rect x="82.1" y="736.8" width="4.8" height="4.8" fill="#1414e6"/>
<rect x="102.4" y="736.8" width="4.8" height="4.8" fill="#1414e6"/>
<rect x="122.7" y="728.7" width="4.8" height="4.8" fill="#1414e6"/>
<rect x="143.0" y="711.4" width="4.8" height="4.8" fill="#1414e6"/>
<rect x="163.3" y="690.0" width="4.8" height="4.8" fill="#1414e6"/>
<rect x="183.6" y="670.7" width="4.8" height="4.8" fill="#1414e6"/>
<rect x="203.9" y="657.4" width="4.8" height="4.8" fill="#1414e6"/>
<polyline points="84.5,741.2 104.8,743.2 125.1,742.2 145.4,742.2 165.7,744.3 186.0,742.2 206.3,741.7" fill="none" stroke="#000000" stroke-width="1.7" stroke-linejoin="round"/>
<path d="M84.5,738.2V744.3M81.5,738.2H87.5M81.5,744.3H87.5M104.8,737.1V749.4M101.8,737.1H107.8M101.8,749.4H107.8M125.1,736.1V748.3M122.1,736.1H128.1M122.1,748.3H128.1M145.4,740.2V744.3M142.4,740.2H148.4M142.4,744.3H148.4M186.0,738.2V746.3M183.0,738.2H189.0M183.0,746.3H189.0M206.3,738.7V744.8M203.3,738.7H209.3M203.3,744.8H209.3" fill="none" stroke="#000000" stroke-width="1.5"/>
<polygon points="84.5,744.3 87.6,738.9 81.3,738.9" fill="#000000"/>
<polygon points="104.8,746.4 107.9,740.9 101.6,740.9" fill="#000000"/>
<polygon points="125.1,745.4 128.2,739.9 121.9,739.9" fill="#000000"/>
<polygon points="145.4,745.4 148.5,739.9 142.2,739.9" fill="#000000"/>
<polygon points="165.7,747.4 168.8,741.9 162.5,741.9" fill="#000000"/>
<polygon points="186.0,745.4 189.1,739.9 182.9,739.9" fill="#000000"/>
<polygon points="206.3,744.8 209.4,739.4 203.2,739.4" fill="#000000"/>
<text class="lab" transform="translate(256.44,614.20) scale(0.880,1)" font-size="18.90">k</text>
<path d="M303.6,636.0V751.1H482.4" fill="none" stroke="#000" stroke-width="1.9"/>
<text x="298.0" y="749.4" font-size="8.8" text-anchor="end">0</text>
<text x="298.0" y="729.3" font-size="8.8" text-anchor="end">20</text>
<text x="298.0" y="709.2" font-size="8.8" text-anchor="end">40</text>
<text x="298.0" y="689.1" font-size="8.8" text-anchor="end">60</text>
<text x="298.0" y="669.0" font-size="8.8" text-anchor="end">80</text>
<text x="298.0" y="648.9" font-size="8.8" text-anchor="end">100</text>
<path d="M298.1,746.2H303.6M298.1,726.2H303.6M298.1,706.1H303.6M298.1,686.0H303.6M298.1,665.9H303.6M298.1,645.8H303.6M327.1,751.1V756.1M337.0,751.1V753.9M342.8,751.1V753.9M347.0,751.1V753.9M350.2,751.1V753.9M352.8,751.1V753.9M355.0,751.1V753.9M356.9,751.1V753.9M358.6,751.1V753.9M360.1,751.1V756.1M370.0,751.1V753.9M375.8,751.1V753.9M379.9,751.1V753.9M383.1,751.1V753.9M385.7,751.1V753.9M388.0,751.1V753.9M389.9,751.1V753.9M391.6,751.1V753.9M393.1,751.1V756.1M403.0,751.1V753.9M408.8,751.1V753.9M412.9,751.1V753.9M416.1,751.1V753.9M418.7,751.1V753.9M420.9,751.1V753.9M422.8,751.1V753.9M424.5,751.1V753.9M426.0,751.1V756.1M436.0,751.1V753.9M441.8,751.1V753.9M445.9,751.1V753.9M449.1,751.1V753.9M451.7,751.1V753.9M453.9,751.1V753.9M455.8,751.1V753.9M457.5,751.1V753.9M459.0,751.1V756.1M468.9,751.1V753.9M474.8,751.1V753.9M478.9,751.1V753.9M482.1,751.1V753.9" fill="none" stroke="#000" stroke-width="1.5"/>
<text x="328.4" y="766.6" font-size="10.2" text-anchor="middle">10<tspan font-size="6.2" dy="-3.6" dx="0.5">0</tspan></text>
<text x="361.4" y="766.6" font-size="10.2" text-anchor="middle">10<tspan font-size="6.2" dy="-3.6" dx="0.5">1</tspan></text>
<text x="394.4" y="766.6" font-size="10.2" text-anchor="middle">10<tspan font-size="6.2" dy="-3.6" dx="0.5">2</tspan></text>
<text x="427.3" y="766.6" font-size="10.2" text-anchor="middle">10<tspan font-size="6.2" dy="-3.6" dx="0.5">3</tspan></text>
<text x="460.3" y="766.6" font-size="10.2" text-anchor="middle">10<tspan font-size="6.2" dy="-3.6" dx="0.5">4</tspan></text>
<text x="393.2" y="777.8" font-size="11.53" text-anchor="middle">Concentration (nM)</text>
<text transform="translate(267.3,693.5) rotate(-90)" x="0" y="0" font-size="11.24" text-anchor="middle">Inhibition of HCoV-OC43</text>
<text transform="translate(281.5,693.5) rotate(-90)" x="0" y="0" font-size="11.24" text-anchor="middle">PsV infection (%)</text>
<path d="M307.3,618.1H320.3" stroke="#e61e1e" stroke-width="1.8"/>
<circle cx="313.8" cy="618.1" r="2.4" fill="#e61e1e"/>
<text transform="translate(328.0,621.10) scale(1,1.1)" font-size="8.67">EK1C4, IC50=37.7 nM</text>
<path d="M307.3,627.0H320.3" stroke="#1414e6" stroke-width="1.8"/>
<rect x="311.5" y="624.7" width="4.6" height="4.6" fill="#1414e6"/>
<text transform="translate(328.0,630.00) scale(1,1.1)" font-size="8.67">EK1, IC50=1398 nM</text>
<path d="M307.3,635.9H320.3" stroke="#000000" stroke-width="1.8"/>
<polygon points="313.8,638.9 316.8,633.6 310.8,633.6" fill="#000000"/>
<text transform="translate(328.0,638.90) scale(1,1.1)" font-size="8.67">EK1-Scrambled</text>
<polyline points="330.3,738.2 350.2,720.1 370.0,694.0 389.9,672.9 409.7,653.8 429.6,646.8 449.4,645.8" fill="none" stroke="#e61e1e" stroke-width="1.7" stroke-linejoin="round"/>
<path d="M330.3,733.2V743.2M327.3,733.2H333.3M327.3,743.2H333.3M350.2,710.1V730.2M347.2,710.1H353.2M347.2,730.2H353.2M370.0,692.0V696.0M367.0,692.0H373.0M367.0,696.0H373.0M389.9,668.9V676.9M386.9,668.9H392.9M386.9,676.9H392.9M409.7,648.8V658.9M406.7,648.8H412.7M406.7,658.9H412.7" fill="none" stroke="#e61e1e" stroke-width="1.5"/>
<circle cx="330.3" cy="738.2" r="2.5" fill="#e61e1e"/>
<circle cx="350.2" cy="720.1" r="2.5" fill="#e61e1e"/>
<circle cx="370.0" cy="694.0" r="2.5" fill="#e61e1e"/>
<circle cx="389.9" cy="672.9" r="2.5" fill="#e61e1e"/>
<circle cx="409.7" cy="653.8" r="2.5" fill="#e61e1e"/>
<circle cx="429.6" cy="646.8" r="2.5" fill="#e61e1e"/>
<circle cx="449.4" cy="645.8" r="2.5" fill="#e61e1e"/>
<polyline points="350.2,742.2 370.0,736.2 389.9,735.2 409.7,725.2 429.6,701.0 449.4,669.9 469.3,653.8" fill="none" stroke="#1414e6" stroke-width="1.7" stroke-linejoin="round"/>
<path d="M350.2,740.2V744.2M347.2,740.2H353.2M347.2,744.2H353.2M370.0,732.2V740.2M367.0,732.2H373.0M367.0,740.2H373.0M389.9,732.2V738.2M386.9,732.2H392.9M386.9,738.2H392.9M409.7,720.1V730.2M406.7,720.1H412.7M406.7,730.2H412.7M429.6,694.0V708.1M426.6,694.0H432.6M426.6,708.1H432.6M449.4,663.9V675.9M446.4,663.9H452.4M446.4,675.9H452.4M469.3,651.8V655.8M466.3,651.8H472.3M466.3,655.8H472.3" fill="none" stroke="#1414e6" stroke-width="1.5"/>
<rect x="347.8" y="739.9" width="4.8" height="4.8" fill="#1414e6"/>
<rect x="367.6" y="733.8" width="4.8" height="4.8" fill="#1414e6"/>
<rect x="387.5" y="732.8" width="4.8" height="4.8" fill="#1414e6"/>
<rect x="407.3" y="722.8" width="4.8" height="4.8" fill="#1414e6"/>
<rect x="427.2" y="698.7" width="4.8" height="4.8" fill="#1414e6"/>
<rect x="447.1" y="667.5" width="4.8" height="4.8" fill="#1414e6"/>
<rect x="466.9" y="651.5" width="4.8" height="4.8" fill="#1414e6"/>
<polyline points="330.3,741.2 350.2,741.2 370.0,742.2 389.9,736.2 409.7,735.2 429.6,738.2 449.4,737.7 469.3,737.2" fill="none" stroke="#000000" stroke-width="1.7" stroke-linejoin="round"/>
<path d="M330.3,736.2V746.2M327.3,736.2H333.3M327.3,746.2H333.3M350.2,738.2V744.2M347.2,738.2H353.2M347.2,744.2H353.2M370.0,736.2V748.3M367.0,736.2H373.0M367.0,748.3H373.0M389.9,730.2V742.2M386.9,730.2H392.9M386.9,742.2H392.9M409.7,729.2V741.2M406.7,729.2H412.7M406.7,741.2H412.7M429.6,733.2V743.2M426.6,733.2H432.6M426.6,743.2H432.6M449.4,727.7V747.8M446.4,727.7H452.4M446.4,747.8H452.4M469.3,734.2V740.2M466.3,734.2H472.3M466.3,740.2H472.3" fill="none" stroke="#000000" stroke-width="1.5"/>
<polygon points="330.3,744.4 333.4,738.9 327.2,738.9" fill="#000000"/>
<polygon points="350.2,744.4 353.3,738.9 347.0,738.9" fill="#000000"/>
<polygon points="370.0,745.4 373.1,739.9 366.9,739.9" fill="#000000"/>
<polygon points="389.9,739.3 393.0,733.9 386.7,733.9" fill="#000000"/>
<polygon points="409.7,738.3 412.8,732.9 406.6,732.9" fill="#000000"/>
<polygon points="429.6,741.3 432.7,735.9 426.5,735.9" fill="#000000"/>
<polygon points="449.4,740.8 452.6,735.4 446.3,735.4" fill="#000000"/>
<polygon points="469.3,740.3 472.4,734.9 466.2,734.9" fill="#000000"/>
<text class="lab" transform="translate(509.83,615.60) scale(0.805,1)" font-size="19.03">l</text>
<path d="M556.7,638.5V751.5H728.8" fill="none" stroke="#000" stroke-width="1.9"/>
<text x="551.1" y="750.0" font-size="8.8" text-anchor="end">0</text>
<text x="551.1" y="730.1" font-size="8.8" text-anchor="end">20</text>
<text x="551.1" y="710.3" font-size="8.8" text-anchor="end">40</text>
<text x="551.1" y="690.5" font-size="8.8" text-anchor="end">60</text>
<text x="551.1" y="670.6" font-size="8.8" text-anchor="end">80</text>
<text x="551.1" y="650.8" font-size="8.8" text-anchor="end">100</text>
<path d="M551.2,746.9H556.7M551.2,727.0H556.7M551.2,707.2H556.7M551.2,687.4H556.7M551.2,667.5H556.7M551.2,647.7H556.7M578.1,751.5V756.5M587.8,751.5V754.3M593.5,751.5V754.3M597.5,751.5V754.3M600.6,751.5V754.3M603.2,751.5V754.3M605.3,751.5V754.3M607.2,751.5V754.3M608.8,751.5V754.3M610.3,751.5V756.5M620.0,751.5V754.3M625.7,751.5V754.3M629.7,751.5V754.3M632.8,751.5V754.3M635.4,751.5V754.3M637.5,751.5V754.3M639.4,751.5V754.3M641.0,751.5V754.3M642.5,751.5V756.5M652.2,751.5V754.3M657.9,751.5V754.3M661.9,751.5V754.3M665.0,751.5V754.3M667.6,751.5V754.3M669.7,751.5V754.3M671.6,751.5V754.3M673.2,751.5V754.3M674.7,751.5V756.5M684.4,751.5V754.3M690.1,751.5V754.3M694.1,751.5V754.3M697.2,751.5V754.3M699.8,751.5V754.3M701.9,751.5V754.3M703.8,751.5V754.3M705.4,751.5V754.3M706.9,751.5V756.5M716.6,751.5V754.3M722.3,751.5V754.3M726.3,751.5V754.3M729.4,751.5V754.3" fill="none" stroke="#000" stroke-width="1.5"/>
<text x="579.4" y="767.0" font-size="10.2" text-anchor="middle">10<tspan font-size="6.2" dy="-3.6" dx="0.5">0</tspan></text>
<text x="611.6" y="767.0" font-size="10.2" text-anchor="middle">10<tspan font-size="6.2" dy="-3.6" dx="0.5">1</tspan></text>
<text x="643.8" y="767.0" font-size="10.2" text-anchor="middle">10<tspan font-size="6.2" dy="-3.6" dx="0.5">2</tspan></text>
<text x="676.0" y="767.0" font-size="10.2" text-anchor="middle">10<tspan font-size="6.2" dy="-3.6" dx="0.5">3</tspan></text>
<text x="708.2" y="767.0" font-size="10.2" text-anchor="middle">10<tspan font-size="6.2" dy="-3.6" dx="0.5">4</tspan></text>
<text x="643.1" y="777.8" font-size="11.12" text-anchor="middle">Concentration (nM)</text>
<text transform="translate(522.3,695.0) rotate(-90)" x="0" y="0" font-size="11.05" text-anchor="middle">Inhibition of HCoV-229E</text>
<text transform="translate(535.1,695.0) rotate(-90)" x="0" y="0" font-size="11.05" text-anchor="middle">PsV infection (%)</text>
<path d="M561.5,618.1H574.2" stroke="#e61e1e" stroke-width="1.8"/>
<circle cx="567.9" cy="618.1" r="2.4" fill="#e61e1e"/>
<text transform="translate(581.3,621.10) scale(1,1.1)" font-size="8.39">EK1C4, IC50=12.4 nM</text>
<path d="M561.5,627.4H574.2" stroke="#1414e6" stroke-width="1.8"/>
<rect x="565.6" y="625.1" width="4.6" height="4.6" fill="#1414e6"/>
<text transform="translate(581.3,630.35) scale(1,1.1)" font-size="8.39">EK1, IC50=3963 nM</text>
<path d="M561.5,636.6H574.2" stroke="#000000" stroke-width="1.8"/>
<polygon points="567.9,639.6 570.9,634.4 564.9,634.4" fill="#000000"/>
<text transform="translate(581.3,639.60) scale(1,1.1)" font-size="8.39">EK1-Scrambled</text>
<polyline points="581.3,725.0 600.6,706.2 619.9,684.4 639.2,659.6 658.5,649.7 677.8,648.2 697.1,647.7" fill="none" stroke="#e61e1e" stroke-width="1.7" stroke-linejoin="round"/>
<path d="M581.3,718.1V732.0M578.3,718.1H584.3M578.3,732.0H584.3M600.6,703.2V709.2M597.6,703.2H603.6M597.6,709.2H603.6M619.9,680.4V688.4M616.9,680.4H622.9M616.9,688.4H622.9M639.2,653.6V665.5M636.2,653.6H642.2M636.2,665.5H642.2" fill="none" stroke="#e61e1e" stroke-width="1.5"/>
<circle cx="581.3" cy="725.0" r="2.5" fill="#e61e1e"/>
<circle cx="600.6" cy="706.2" r="2.5" fill="#e61e1e"/>
<circle cx="619.9" cy="684.4" r="2.5" fill="#e61e1e"/>
<circle cx="639.2" cy="659.6" r="2.5" fill="#e61e1e"/>
<circle cx="658.5" cy="649.7" r="2.5" fill="#e61e1e"/>
<circle cx="677.8" cy="648.2" r="2.5" fill="#e61e1e"/>
<circle cx="697.1" cy="647.7" r="2.5" fill="#e61e1e"/>
<polyline points="600.6,737.9 619.9,738.9 639.2,733.0 658.5,729.0 677.8,720.1 697.1,686.4 716.4,670.5" fill="none" stroke="#1414e6" stroke-width="1.7" stroke-linejoin="round"/>
<path d="M600.6,735.9V739.9M597.6,735.9H603.6M597.6,739.9H603.6M619.9,736.9V740.9M616.9,736.9H622.9M616.9,740.9H622.9M639.2,727.0V738.9M636.2,727.0H642.2M636.2,738.9H642.2M658.5,723.1V735.0M655.5,723.1H661.5M655.5,735.0H661.5M677.8,718.1V722.1M674.8,718.1H680.8M674.8,722.1H680.8M697.1,682.4V690.3M694.1,682.4H700.1M694.1,690.3H700.1M716.4,664.6V676.5M713.4,664.6H719.4M713.4,676.5H719.4" fill="none" stroke="#1414e6" stroke-width="1.5"/>
<rect x="598.2" y="735.6" width="4.8" height="4.8" fill="#1414e6"/>
<rect x="617.5" y="736.5" width="4.8" height="4.8" fill="#1414e6"/>
<rect x="636.8" y="730.6" width="4.8" height="4.8" fill="#1414e6"/>
<rect x="656.1" y="726.6" width="4.8" height="4.8" fill="#1414e6"/>
<rect x="675.4" y="717.7" width="4.8" height="4.8" fill="#1414e6"/>
<rect x="694.7" y="684.0" width="4.8" height="4.8" fill="#1414e6"/>
<rect x="714.0" y="668.1" width="4.8" height="4.8" fill="#1414e6"/>
<polyline points="600.6,736.9 619.9,737.9 639.2,736.9 658.5,736.9 677.8,740.4 697.1,739.9 716.4,735.4" fill="none" stroke="#000000" stroke-width="1.7" stroke-linejoin="round"/>
<path d="M600.6,732.0V741.9M597.6,732.0H603.6M597.6,741.9H603.6M619.9,735.9V739.9M616.9,735.9H622.9M616.9,739.9H622.9M639.2,732.0V741.9M636.2,732.0H642.2M636.2,741.9H642.2M658.5,733.0V740.9M655.5,733.0H661.5M655.5,740.9H661.5M677.8,736.4V744.4M674.8,736.4H680.8M674.8,744.4H680.8M697.1,734.0V745.9M694.1,734.0H700.1M694.1,745.9H700.1M716.4,729.5V741.4M713.4,729.5H719.4M713.4,741.4H719.4" fill="none" stroke="#000000" stroke-width="1.5"/>
<polygon points="600.6,740.1 603.7,734.6 597.5,734.6" fill="#000000"/>
<polygon points="619.9,741.1 623.0,735.6 616.8,735.6" fill="#000000"/>
<polygon points="639.2,740.1 642.3,734.6 636.1,734.6" fill="#000000"/>
<polygon points="658.5,740.1 661.6,734.6 655.4,734.6" fill="#000000"/>
<polygon points="677.8,743.5 680.9,738.1 674.7,738.1" fill="#000000"/>
<polygon points="697.1,743.0 700.2,737.6 694.0,737.6" fill="#000000"/>
<polygon points="716.4,738.6 719.5,733.1 713.3,733.1" fill="#000000"/>
<text class="lab" transform="translate(-0.14,814.20) scale(1.023,1)" font-size="18.37">m</text>
<path d="M48.3,837.0V952.3H228.3" fill="none" stroke="#000" stroke-width="1.9"/>
<text x="42.7" y="947.8" font-size="8.8" text-anchor="end">0</text>
<text x="42.7" y="927.8" font-size="8.8" text-anchor="end">20</text>
<text x="42.7" y="907.8" font-size="8.8" text-anchor="end">40</text>
<text x="42.7" y="887.7" font-size="8.8" text-anchor="end">60</text>
<text x="42.7" y="867.7" font-size="8.8" text-anchor="end">80</text>
<text x="42.7" y="847.7" font-size="8.8" text-anchor="end">100</text>
<path d="M42.8,944.7H48.3M42.8,924.7H48.3M42.8,904.7H48.3M42.8,884.6H48.3M42.8,864.6H48.3M42.8,844.6H48.3M70.4,952.3V957.3M79.9,952.3V955.1M85.5,952.3V955.1M89.4,952.3V955.1M92.5,952.3V955.1M95.0,952.3V955.1M97.1,952.3V955.1M98.9,952.3V955.1M100.5,952.3V955.1M102.0,952.3V957.3M111.5,952.3V955.1M117.0,952.3V955.1M121.0,952.3V955.1M124.1,952.3V955.1M126.6,952.3V955.1M128.7,952.3V955.1M130.5,952.3V955.1M132.1,952.3V955.1M133.6,952.3V957.3M143.1,952.3V955.1M148.6,952.3V955.1M152.6,952.3V955.1M155.6,952.3V955.1M158.1,952.3V955.1M160.2,952.3V955.1M162.1,952.3V955.1M163.7,952.3V955.1M165.1,952.3V957.3M174.6,952.3V955.1M180.2,952.3V955.1M184.2,952.3V955.1M187.2,952.3V955.1M189.7,952.3V955.1M191.8,952.3V955.1M193.7,952.3V955.1M195.3,952.3V955.1M196.7,952.3V957.3M206.2,952.3V955.1M211.8,952.3V955.1M215.7,952.3V955.1M218.8,952.3V955.1M221.3,952.3V955.1M223.4,952.3V955.1M225.2,952.3V955.1M226.9,952.3V955.1M228.3,952.3V957.3" fill="none" stroke="#000" stroke-width="1.5"/>
<text x="71.7" y="967.8" font-size="10.2" text-anchor="middle">10<tspan font-size="6.2" dy="-3.6" dx="0.5">0</tspan></text>
<text x="103.3" y="967.8" font-size="10.2" text-anchor="middle">10<tspan font-size="6.2" dy="-3.6" dx="0.5">1</tspan></text>
<text x="134.9" y="967.8" font-size="10.2" text-anchor="middle">10<tspan font-size="6.2" dy="-3.6" dx="0.5">2</tspan></text>
<text x="166.4" y="967.8" font-size="10.2" text-anchor="middle">10<tspan font-size="6.2" dy="-3.6" dx="0.5">3</tspan></text>
<text x="198.0" y="967.8" font-size="10.2" text-anchor="middle">10<tspan font-size="6.2" dy="-3.6" dx="0.5">4</tspan></text>
<text x="229.6" y="967.8" font-size="10.2" text-anchor="middle">10<tspan font-size="6.2" dy="-3.6" dx="0.5">5</tspan></text>
<text x="138.7" y="978.7" font-size="11.63" text-anchor="middle">Concentration (nM)</text>
<text transform="translate(10.9,894.6) rotate(-90)" x="0" y="0" font-size="11.4" text-anchor="middle">Inhibition of HCoV-NL63</text>
<text transform="translate(25.1,894.6) rotate(-90)" x="0" y="0" font-size="11.4" text-anchor="middle">PsV infection (%)</text>
<path d="M54.9,816.7H67.9" stroke="#e61e1e" stroke-width="1.8"/>
<polygon points="61.4,813.6 64.5,816.7 61.4,819.8 58.3,816.7" fill="#e61e1e"/>
<text transform="translate(76.0,819.70) scale(1,1.1)" font-size="8.82">EK1C4, IC50=76.6 nM</text>
<path d="M54.9,825.9H67.9" stroke="#1414e6" stroke-width="1.8"/>
<polygon points="61.4,822.9 64.4,828.2 58.4,828.2" fill="#1414e6"/>
<text transform="translate(76.0,828.90) scale(1,1.1)" font-size="8.82">EK1, IC50=7666 nM</text>
<path d="M54.9,835.1H67.9" stroke="#000000" stroke-width="1.8"/>
<circle cx="61.4" cy="835.1" r="2.4" fill="#000000"/>
<text transform="translate(76.0,838.10) scale(1,1.1)" font-size="8.82">EK1-Scrambled</text>
<polyline points="64.0,942.2 83.0,936.7 102.0,924.7 121.0,901.7 140.0,864.6 159.0,848.1 178.0,846.6" fill="none" stroke="#e61e1e" stroke-width="1.7" stroke-linejoin="round"/>
<path d="M64.0,937.2V947.2M61.0,937.2H67.0M61.0,947.2H67.0M83.0,929.7V943.7M80.0,929.7H86.0M80.0,943.7H86.0M102.0,920.7V928.7M99.0,920.7H105.0M99.0,928.7H105.0M121.0,895.7V907.7M118.0,895.7H124.0M118.0,907.7H124.0M140.0,854.6V874.6M137.0,854.6H143.0M137.0,874.6H143.0" fill="none" stroke="#e61e1e" stroke-width="1.5"/>
<polygon points="64.0,938.9 67.2,942.2 64.0,945.4 60.7,942.2" fill="#e61e1e"/>
<polygon points="83.0,933.4 86.2,936.7 83.0,939.9 79.7,936.7" fill="#e61e1e"/>
<polygon points="102.0,921.4 105.2,924.7 102.0,927.9 98.7,924.7" fill="#e61e1e"/>
<polygon points="121.0,898.4 124.2,901.7 121.0,904.9 117.7,901.7" fill="#e61e1e"/>
<polygon points="140.0,861.4 143.3,864.6 140.0,867.9 136.8,864.6" fill="#e61e1e"/>
<polygon points="159.0,844.9 162.3,848.1 159.0,851.4 155.8,848.1" fill="#e61e1e"/>
<polygon points="178.0,843.4 181.3,846.6 178.0,849.9 174.8,846.6" fill="#e61e1e"/>
<polyline points="102.0,941.7 121.0,939.7 140.0,928.7 159.0,930.7 178.0,912.7 197.0,882.6 216.1,867.6" fill="none" stroke="#1414e6" stroke-width="1.7" stroke-linejoin="round"/>
<path d="M102.0,938.7V944.7M99.0,938.7H105.0M99.0,944.7H105.0M121.0,935.7V943.7M118.0,935.7H124.0M118.0,943.7H124.0M140.0,914.7V942.7M137.0,914.7H143.0M137.0,942.7H143.0M159.0,927.7V933.7M156.0,927.7H162.0M156.0,933.7H162.0M178.0,905.7V919.7M175.0,905.7H181.0M175.0,919.7H181.0M197.0,873.6V891.6M194.0,873.6H200.0M194.0,891.6H200.0M216.1,864.6V870.6M213.1,864.6H219.1M213.1,870.6H219.1" fill="none" stroke="#1414e6" stroke-width="1.5"/>
<polygon points="102.0,938.6 105.1,944.0 98.9,944.0" fill="#1414e6"/>
<polygon points="121.0,936.6 124.1,942.0 117.9,942.0" fill="#1414e6"/>
<polygon points="140.0,925.6 143.1,931.0 136.9,931.0" fill="#1414e6"/>
<polygon points="159.0,927.6 162.1,933.0 155.9,933.0" fill="#1414e6"/>
<polygon points="178.0,909.5 181.2,915.0 174.9,915.0" fill="#1414e6"/>
<polygon points="197.0,879.5 200.2,885.0 193.9,885.0" fill="#1414e6"/>
<polygon points="216.1,864.5 219.2,870.0 212.9,870.0" fill="#1414e6"/>
<polyline points="102.0,941.7 121.0,941.7 140.0,936.7 159.0,938.7 178.0,942.2 197.0,939.7 216.1,941.7" fill="none" stroke="#000000" stroke-width="1.7" stroke-linejoin="round"/>
<path d="M102.0,938.7V944.7M99.0,938.7H105.0M99.0,944.7H105.0M121.0,936.7V946.7M118.0,936.7H124.0M118.0,946.7H124.0M140.0,931.7V941.7M137.0,931.7H143.0M137.0,941.7H143.0M159.0,935.7V941.7M156.0,935.7H162.0M156.0,941.7H162.0M178.0,935.2V949.2M175.0,935.2H181.0M175.0,949.2H181.0M197.0,931.7V947.7M194.0,931.7H200.0M194.0,947.7H200.0M216.1,937.7V945.7M213.1,937.7H219.1M213.1,945.7H219.1" fill="none" stroke="#000000" stroke-width="1.5"/>
<circle cx="102.0" cy="941.7" r="2.5" fill="#000000"/>
<circle cx="121.0" cy="941.7" r="2.5" fill="#000000"/>
<circle cx="140.0" cy="936.7" r="2.5" fill="#000000"/>
<circle cx="159.0" cy="938.7" r="2.5" fill="#000000"/>
<circle cx="178.0" cy="942.2" r="2.5" fill="#000000"/>
<circle cx="197.0" cy="939.7" r="2.5" fill="#000000"/>
<circle cx="216.1" cy="941.7" r="2.5" fill="#000000"/>
<text class="lab" transform="translate(256.45,813.70) scale(0.893,1)" font-size="19.48">n</text>
<path d="M303.6,833.2V954.2H484.3" fill="none" stroke="#000" stroke-width="1.9"/>
<text x="298.0" y="949.4" font-size="8.8" text-anchor="end">0</text>
<text x="298.0" y="928.7" font-size="8.8" text-anchor="end">20</text>
<text x="298.0" y="908.1" font-size="8.8" text-anchor="end">40</text>
<text x="298.0" y="887.5" font-size="8.8" text-anchor="end">60</text>
<text x="298.0" y="866.9" font-size="8.8" text-anchor="end">80</text>
<text x="298.0" y="846.3" font-size="8.8" text-anchor="end">100</text>
<path d="M298.1,946.2H303.6M298.1,925.6H303.6M298.1,905.0H303.6M298.1,884.4H303.6M298.1,863.8H303.6M298.1,843.2H303.6M325.3,954.2V959.2M334.9,954.2V957.0M340.5,954.2V957.0M344.4,954.2V957.0M347.5,954.2V957.0M350.0,954.2V957.0M352.2,954.2V957.0M354.0,954.2V957.0M355.6,954.2V957.0M357.1,954.2V959.2M366.7,954.2V957.0M372.3,954.2V957.0M376.2,954.2V957.0M379.3,954.2V957.0M381.8,954.2V957.0M384.0,954.2V957.0M385.8,954.2V957.0M387.4,954.2V957.0M388.9,954.2V959.2M398.5,954.2V957.0M404.1,954.2V957.0M408.0,954.2V957.0M411.1,954.2V957.0M413.6,954.2V957.0M415.8,954.2V957.0M417.6,954.2V957.0M419.2,954.2V957.0M420.7,954.2V959.2M430.3,954.2V957.0M435.9,954.2V957.0M439.8,954.2V957.0M442.9,954.2V957.0M445.4,954.2V957.0M447.6,954.2V957.0M449.4,954.2V957.0M451.0,954.2V957.0M452.5,954.2V959.2M462.1,954.2V957.0M467.7,954.2V957.0M471.6,954.2V957.0M474.7,954.2V957.0M477.2,954.2V957.0M479.4,954.2V957.0M481.2,954.2V957.0M482.8,954.2V957.0M484.3,954.2V959.2" fill="none" stroke="#000" stroke-width="1.5"/>
<text x="326.6" y="969.7" font-size="10.2" text-anchor="middle">10<tspan font-size="6.2" dy="-3.6" dx="0.5">0</tspan></text>
<text x="358.4" y="969.7" font-size="10.2" text-anchor="middle">10<tspan font-size="6.2" dy="-3.6" dx="0.5">1</tspan></text>
<text x="390.2" y="969.7" font-size="10.2" text-anchor="middle">10<tspan font-size="6.2" dy="-3.6" dx="0.5">2</tspan></text>
<text x="422.0" y="969.7" font-size="10.2" text-anchor="middle">10<tspan font-size="6.2" dy="-3.6" dx="0.5">3</tspan></text>
<text x="453.8" y="969.7" font-size="10.2" text-anchor="middle">10<tspan font-size="6.2" dy="-3.6" dx="0.5">4</tspan></text>
<text x="485.6" y="969.7" font-size="10.2" text-anchor="middle">10<tspan font-size="6.2" dy="-3.6" dx="0.5">5</tspan></text>
<text x="394.2" y="982.4" font-size="11.74" text-anchor="middle">Concentration (nM)</text>
<text transform="translate(268.0,893.7) rotate(-90)" x="0" y="0" font-size="11.6" text-anchor="middle">Inhibition of WIV1 PsV</text>
<text transform="translate(281.5,893.7) rotate(-90)" x="0" y="0" font-size="11.6" text-anchor="middle">infection (%)</text>
<path d="M313.9,814.1H327.0" stroke="#e61e1e" stroke-width="1.8"/>
<circle cx="320.4" cy="814.1" r="2.4" fill="#e61e1e"/>
<text transform="translate(334.6,817.10) scale(1,1.1)" font-size="8.79">EK1C4, IC50=30.8 nM</text>
<path d="M313.9,823.6H327.0" stroke="#1414e6" stroke-width="1.8"/>
<polygon points="320.4,820.6 323.4,825.9 317.4,825.9" fill="#1414e6"/>
<text transform="translate(334.6,826.60) scale(1,1.1)" font-size="8.79">EK1, IC50=5425 nM</text>
<path d="M313.9,833.1H327.0" stroke="#000000" stroke-width="1.8"/>
<polygon points="320.4,830.0 323.6,833.1 320.4,836.2 317.3,833.1" fill="#000000"/>
<text transform="translate(334.6,836.10) scale(1,1.1)" font-size="8.79">EK1-Scrambled</text>
<polyline points="318.8,942.1 338.0,937.0 357.1,911.2 376.2,884.4 395.4,863.8 414.5,849.4 433.7,848.4" fill="none" stroke="#e61e1e" stroke-width="1.7" stroke-linejoin="round"/>
<path d="M318.8,935.9V948.3M315.8,935.9H321.8M315.8,948.3H321.8M338.0,929.8V944.2M335.0,929.8H341.0M335.0,944.2H341.0M357.1,905.0V917.4M354.1,905.0H360.1M354.1,917.4H360.1M376.2,878.2V890.6M373.2,878.2H379.2M373.2,890.6H379.2M395.4,855.6V872.1M392.4,855.6H398.4M392.4,872.1H398.4M433.7,845.3V851.4M430.7,845.3H436.7M430.7,851.4H436.7" fill="none" stroke="#e61e1e" stroke-width="1.5"/>
<circle cx="318.8" cy="942.1" r="2.5" fill="#e61e1e"/>
<circle cx="338.0" cy="937.0" r="2.5" fill="#e61e1e"/>
<circle cx="357.1" cy="911.2" r="2.5" fill="#e61e1e"/>
<circle cx="376.2" cy="884.4" r="2.5" fill="#e61e1e"/>
<circle cx="395.4" cy="863.8" r="2.5" fill="#e61e1e"/>
<circle cx="414.5" cy="849.4" r="2.5" fill="#e61e1e"/>
<circle cx="433.7" cy="848.4" r="2.5" fill="#e61e1e"/>
<polyline points="357.1,937.0 376.2,938.0 395.4,923.6 414.5,918.4 433.7,896.8 452.8,873.1 472.0,865.9" fill="none" stroke="#1414e6" stroke-width="1.7" stroke-linejoin="round"/>
<path d="M357.1,927.7V946.2M354.1,927.7H360.1M354.1,946.2H360.1M376.2,934.9V941.1M373.2,934.9H379.2M373.2,941.1H379.2M395.4,917.4V929.8M392.4,917.4H398.4M392.4,929.8H398.4M414.5,913.3V923.6M411.5,913.3H417.5M411.5,923.6H417.5M433.7,888.5V905.0M430.7,888.5H436.7M430.7,905.0H436.7M452.8,867.9V878.2M449.8,867.9H455.8M449.8,878.2H455.8M472.0,862.8V869.0M469.0,862.8H475.0M469.0,869.0H475.0" fill="none" stroke="#1414e6" stroke-width="1.5"/>
<polygon points="357.1,933.9 360.2,939.3 354.0,939.3" fill="#1414e6"/>
<polygon points="376.2,934.9 379.4,940.3 373.1,940.3" fill="#1414e6"/>
<polygon points="395.4,920.5 398.5,925.9 392.3,925.9" fill="#1414e6"/>
<polygon points="414.5,915.3 417.7,920.8 411.4,920.8" fill="#1414e6"/>
<polygon points="433.7,893.7 436.8,899.1 430.6,899.1" fill="#1414e6"/>
<polygon points="452.8,870.0 456.0,875.4 449.7,875.4" fill="#1414e6"/>
<polygon points="472.0,862.7 475.1,868.2 468.8,868.2" fill="#1414e6"/>
<polyline points="357.1,944.2 376.2,945.2 395.4,943.2 414.5,941.1 433.7,939.6 452.8,939.0 472.0,941.1" fill="none" stroke="#000000" stroke-width="1.7" stroke-linejoin="round"/>
<path d="M357.1,938.0V950.4M354.1,938.0H360.1M354.1,950.4H360.1M376.2,940.1V950.4M373.2,940.1H379.2M373.2,950.4H379.2M414.5,934.9V947.3M411.5,934.9H417.5M411.5,947.3H417.5M433.7,935.4V943.7M430.7,935.4H436.7M430.7,943.7H436.7M452.8,933.9V944.2M449.8,933.9H455.8M449.8,944.2H455.8M472.0,934.9V947.3M469.0,934.9H475.0M469.0,947.3H475.0" fill="none" stroke="#000000" stroke-width="1.5"/>
<polygon points="357.1,940.9 360.4,944.2 357.1,947.4 353.9,944.2" fill="#000000"/>
<polygon points="376.2,942.0 379.5,945.2 376.2,948.5 373.0,945.2" fill="#000000"/>
<polygon points="395.4,939.9 398.6,943.2 395.4,946.4 392.1,943.2" fill="#000000"/>
<polygon points="414.5,937.8 417.8,941.1 414.5,944.3 411.3,941.1" fill="#000000"/>
<polygon points="433.7,936.3 436.9,939.6 433.7,942.8 430.4,939.6" fill="#000000"/>
<polygon points="452.8,935.8 456.1,939.0 452.8,942.3 449.6,939.0" fill="#000000"/>
<polygon points="472.0,937.8 475.2,941.1 472.0,944.3 468.7,941.1" fill="#000000"/>
<text class="lab" transform="translate(509.91,814.33) scale(1.050,1)" font-size="16.79">o</text>
<path d="M557.5,838.2V952.6H731.2" fill="none" stroke="#000" stroke-width="1.9"/>
<text x="551.9" y="948.0" font-size="8.8" text-anchor="end">0</text>
<text x="551.9" y="928.4" font-size="8.8" text-anchor="end">20</text>
<text x="551.9" y="908.8" font-size="8.8" text-anchor="end">40</text>
<text x="551.9" y="889.2" font-size="8.8" text-anchor="end">60</text>
<text x="551.9" y="869.7" font-size="8.8" text-anchor="end">80</text>
<text x="551.9" y="850.1" font-size="8.8" text-anchor="end">100</text>
<path d="M552.0,944.9H557.5M552.0,925.3H557.5M552.0,905.7H557.5M552.0,886.1H557.5M552.0,866.6H557.5M552.0,847.0H557.5M578.1,952.6V957.6M587.3,952.6V955.4M592.7,952.6V955.4M596.5,952.6V955.4M599.5,952.6V955.4M601.9,952.6V955.4M604.0,952.6V955.4M605.8,952.6V955.4M607.3,952.6V955.4M608.7,952.6V957.6M617.9,952.6V955.4M623.3,952.6V955.4M627.2,952.6V955.4M630.1,952.6V955.4M632.5,952.6V955.4M634.6,952.6V955.4M636.4,952.6V955.4M637.9,952.6V955.4M639.3,952.6V957.6M648.6,952.6V955.4M653.9,952.6V955.4M657.8,952.6V955.4M660.7,952.6V955.4M663.2,952.6V955.4M665.2,952.6V955.4M667.0,952.6V955.4M668.6,952.6V955.4M670.0,952.6V957.6M679.2,952.6V955.4M684.6,952.6V955.4M688.4,952.6V955.4M691.4,952.6V955.4M693.8,952.6V955.4M695.8,952.6V955.4M697.6,952.6V955.4M699.2,952.6V955.4M700.6,952.6V957.6M709.8,952.6V955.4M715.2,952.6V955.4M719.0,952.6V955.4M722.0,952.6V955.4M724.4,952.6V955.4M726.5,952.6V955.4M728.2,952.6V955.4M729.8,952.6V955.4M731.2,952.6V957.6" fill="none" stroke="#000" stroke-width="1.5"/>
<text x="579.4" y="968.1" font-size="10.2" text-anchor="middle">10<tspan font-size="6.2" dy="-3.6" dx="0.5">0</tspan></text>
<text x="610.0" y="968.1" font-size="10.2" text-anchor="middle">10<tspan font-size="6.2" dy="-3.6" dx="0.5">1</tspan></text>
<text x="640.6" y="968.1" font-size="10.2" text-anchor="middle">10<tspan font-size="6.2" dy="-3.6" dx="0.5">2</tspan></text>
<text x="671.3" y="968.1" font-size="10.2" text-anchor="middle">10<tspan font-size="6.2" dy="-3.6" dx="0.5">3</tspan></text>
<text x="701.9" y="968.1" font-size="10.2" text-anchor="middle">10<tspan font-size="6.2" dy="-3.6" dx="0.5">4</tspan></text>
<text x="732.5" y="968.1" font-size="10.2" text-anchor="middle">10<tspan font-size="6.2" dy="-3.6" dx="0.5">5</tspan></text>
<text x="644.2" y="978.7" font-size="11.26" text-anchor="middle">Concentration (nM)</text>
<text transform="translate(522.3,895.4) rotate(-90)" x="0" y="0" font-size="11.1" text-anchor="middle">Inhibition of Rs3367 PsV</text>
<text transform="translate(535.1,895.4) rotate(-90)" x="0" y="0" font-size="11.1" text-anchor="middle">infection (%)</text>
<path d="M563.9,821.4H577.0" stroke="#e61e1e" stroke-width="1.8"/>
<polygon points="570.5,818.3 573.6,821.4 570.5,824.5 567.3,821.4" fill="#e61e1e"/>
<text transform="translate(583.9,824.40) scale(1,1.1)" font-size="8.21">EK1C4, IC50=66.9 nM</text>
<path d="M563.9,829.9H577.0" stroke="#1414e6" stroke-width="1.8"/>
<polygon points="570.5,826.9 573.5,832.2 567.5,832.2" fill="#1414e6"/>
<text transform="translate(583.9,832.95) scale(1,1.1)" font-size="8.21">EK1, IC50=6014 nM</text>
<path d="M563.9,838.5H577.0" stroke="#000000" stroke-width="1.8"/>
<circle cx="570.5" cy="838.5" r="2.4" fill="#000000"/>
<text transform="translate(583.9,841.50) scale(1,1.1)" font-size="8.21">EK1-Scrambled</text>
<polyline points="571.8,938.0 590.3,932.1 608.7,919.4 627.2,891.0 645.6,869.5 664.0,857.8 682.5,850.9" fill="none" stroke="#e61e1e" stroke-width="1.7" stroke-linejoin="round"/>
<path d="M590.3,929.2V935.1M587.3,929.2H593.3M587.3,935.1H593.3M608.7,914.5V924.3M605.7,914.5H611.7M605.7,924.3H611.7M627.2,886.1V895.9M624.2,886.1H630.2M624.2,895.9H630.2M645.6,866.6V872.4M642.6,866.6H648.6M642.6,872.4H648.6M664.0,852.9V862.7M661.0,852.9H667.0M661.0,862.7H667.0M682.5,849.0V852.9M679.5,849.0H685.5M679.5,852.9H685.5" fill="none" stroke="#e61e1e" stroke-width="1.5"/>
<polygon points="571.8,934.8 575.1,938.0 571.8,941.3 568.6,938.0" fill="#e61e1e"/>
<polygon points="590.3,928.9 593.5,932.1 590.3,935.4 587.0,932.1" fill="#e61e1e"/>
<polygon points="608.7,916.2 612.0,919.4 608.7,922.7 605.5,919.4" fill="#e61e1e"/>
<polygon points="627.2,887.8 630.4,891.0 627.2,894.3 623.9,891.0" fill="#e61e1e"/>
<polygon points="645.6,866.3 648.8,869.5 645.6,872.8 642.3,869.5" fill="#e61e1e"/>
<polygon points="664.0,854.5 667.3,857.8 664.0,861.0 660.8,857.8" fill="#e61e1e"/>
<polygon points="682.5,847.7 685.7,850.9 682.5,854.2 679.2,850.9" fill="#e61e1e"/>
<polyline points="608.7,939.0 627.2,938.0 645.6,931.2 664.0,920.4 682.5,897.9 700.9,878.3 719.3,863.6" fill="none" stroke="#1414e6" stroke-width="1.7" stroke-linejoin="round"/>
<path d="M608.7,937.0V940.9M605.7,937.0H611.7M605.7,940.9H611.7M627.2,934.1V941.9M624.2,934.1H630.2M624.2,941.9H630.2M645.6,928.2V934.1M642.6,928.2H648.6M642.6,934.1H648.6M664.0,916.5V924.3M661.0,916.5H667.0M661.0,924.3H667.0M682.5,891.0V904.7M679.5,891.0H685.5M679.5,904.7H685.5M700.9,872.4V884.2M697.9,872.4H703.9M697.9,884.2H703.9M719.3,859.7V867.5M716.3,859.7H722.3M716.3,867.5H722.3" fill="none" stroke="#1414e6" stroke-width="1.5"/>
<polygon points="608.7,935.9 611.8,941.3 605.6,941.3" fill="#1414e6"/>
<polygon points="627.2,934.9 630.3,940.3 624.0,940.3" fill="#1414e6"/>
<polygon points="645.6,928.0 648.7,933.5 642.5,933.5" fill="#1414e6"/>
<polygon points="664.0,917.3 667.2,922.7 660.9,922.7" fill="#1414e6"/>
<polygon points="682.5,894.8 685.6,900.2 679.3,900.2" fill="#1414e6"/>
<polygon points="700.9,875.2 704.0,880.7 697.8,880.7" fill="#1414e6"/>
<polygon points="719.3,860.5 722.5,866.0 716.2,866.0" fill="#1414e6"/>
<polyline points="608.7,940.9 627.2,944.9 645.6,946.8 664.0,941.4 682.5,946.8 700.9,940.4 719.3,943.4" fill="none" stroke="#000000" stroke-width="1.7" stroke-linejoin="round"/>
<path d="M608.7,939.0V942.9M605.7,939.0H611.7M605.7,942.9H611.7M627.2,939.0V950.7M624.2,939.0H630.2M624.2,950.7H630.2M645.6,941.9V951.7M642.6,941.9H648.6M642.6,951.7H648.6M664.0,935.6V947.3M661.0,935.6H667.0M661.0,947.3H667.0M682.5,942.9V950.7M679.5,942.9H685.5M679.5,950.7H685.5M700.9,938.5V942.4M697.9,938.5H703.9M697.9,942.4H703.9M719.3,937.5V949.3M716.3,937.5H722.3M716.3,949.3H722.3" fill="none" stroke="#000000" stroke-width="1.5"/>
<circle cx="608.7" cy="940.9" r="2.5" fill="#000000"/>
<circle cx="627.2" cy="944.9" r="2.5" fill="#000000"/>
<circle cx="645.6" cy="946.8" r="2.5" fill="#000000"/>
<circle cx="664.0" cy="941.4" r="2.5" fill="#000000"/>
<circle cx="682.5" cy="946.8" r="2.5" fill="#000000"/>
<circle cx="700.9" cy="940.4" r="2.5" fill="#000000"/>
<circle cx="719.3" cy="943.4" r="2.5" fill="#000000"/>
</svg></body></html>
